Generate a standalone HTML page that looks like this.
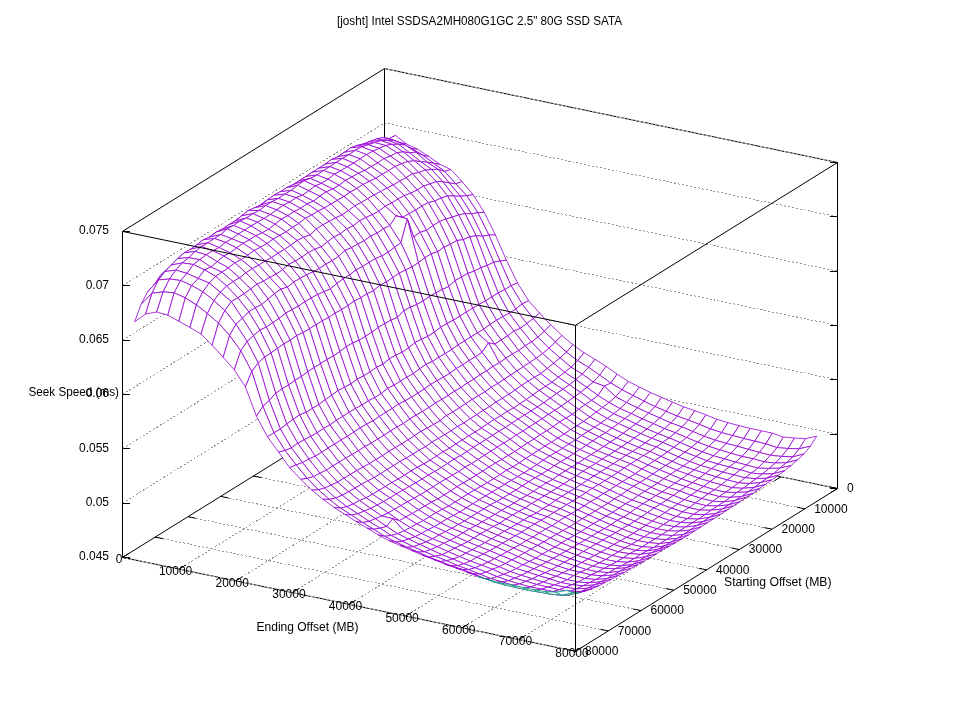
<!DOCTYPE html>
<html><head><meta charset="utf-8"><title>plot</title>
<style>
html,body{margin:0;padding:0;background:#fff;}
svg{display:block;}
text{font-family:"Liberation Sans",sans-serif;font-size:12px;fill:#000;}
.t{filter:grayscale(1);}
.b{stroke:#000;stroke-width:1;fill:none;}
.d{stroke:#969696;stroke-width:1;fill:none;stroke-dasharray:2 2;shape-rendering:crispEdges;}
.d2{stroke:#a8a8a8;stroke-width:1;fill:none;stroke-dasharray:2 2;shape-rendering:crispEdges;}
.q path{fill:#fff;stroke:#9400d3;stroke-width:.8;stroke-linejoin:round;}
.q path.u{stroke:#009e73;}
</style></head><body>
<svg width="960" height="720" viewBox="0 0 960 720">
<rect width="960" height="720" fill="#fff"/>
<path class="d" d="M122.5 503.1L384.5 340.3"/><path class="d" d="M384.5 340.3L837.5 434.2"/><path class="d" d="M122.5 448.7L384.5 285.9"/><path class="d" d="M384.5 285.9L837.5 379.8"/><path class="d" d="M122.5 394.4L384.5 231.6"/><path class="d" d="M384.5 231.6L837.5 325.5"/><path class="d" d="M122.5 340.1L384.5 177.3"/><path class="d" d="M384.5 177.3L837.5 271.2"/><path class="d" d="M122.5 285.7L384.5 122.9"/><path class="d" d="M384.5 122.9L837.5 216.8"/><path class="d" d="M441.1 406.3L179.1 569.1"/><path class="d" d="M351.8 415L804.8 508.9"/><path class="d" d="M497.8 418.1L235.8 580.9"/><path class="d" d="M319 435.3L772 529.2"/><path class="d" d="M554.4 429.8L292.4 592.6"/><path class="d" d="M286.2 455.7L739.2 549.5"/><path class="d" d="M611 441.6L349 604.4"/><path class="d" d="M253.5 476L706.5 569.9"/><path class="d" d="M667.6 453.3L405.6 616.1"/><path class="d" d="M220.8 496.4L673.8 590.2"/><path class="d" d="M724.2 465L462.2 627.8"/><path class="d" d="M188 516.7L641 610.6"/><path class="d" d="M780.9 476.8L518.9 639.6"/><path class="d" d="M155.2 537.1L608.2 631"/><path class="b" d="M122.5 231.4L384.5 68.6"/><path class="b" d="M384.5 68.6L837.5 162.5"/><path class="b" d="M384.5 68.6L384.5 394.6"/><path class="b" d="M122.5 557.4L384.5 394.6"/><path class="b" d="M384.5 394.6L837.5 488.5"/><path class="d2" d="M384.5 68.6L837.5 162.5"/><path class="d2" d="M384.5 394.6L837.5 488.5"/><path class="b" d="M384.5 394.6L392.3 396.2"/><path class="b" d="M384.5 394.6L377.7 398.8"/><path class="b" d="M351.8 415L359.6 416.6"/><path class="b" d="M441.1 406.3L434.3 410.6"/><path class="b" d="M319 435.3L326.8 436.9"/><path class="b" d="M497.8 418.1L491 422.3"/><path class="b" d="M286.2 455.7L294.1 457.3"/><path class="b" d="M554.4 429.8L547.6 434"/><path class="b" d="M253.5 476L261.3 477.6"/><path class="b" d="M611 441.6L604.2 445.8"/><path class="b" d="M220.8 496.4L228.6 498"/><path class="b" d="M667.6 453.3L660.8 457.5"/><path class="b" d="M188 516.7L195.8 518.3"/><path class="b" d="M724.2 465L717.5 469.2"/><path class="b" d="M155.2 537.1L163.1 538.7"/><path class="b" d="M780.9 476.8L774.1 481"/><path class="b" d="M122.5 557.4L130.3 559"/><path class="b" d="M837.5 488.5L830.7 492.7"/><g class="q">
<path d="M384.5 141.3L395.6 135.5L389.2 138.6L378.1 143.4Z"/><path d="M395.6 135.5L406.7 144.1L400.3 142.8L389.2 138.6Z"/><path d="M406.7 144.1L417.7 149.3L411.3 148.5L400.3 142.8Z"/><path d="M417.7 149.3L428.8 156.5L422.4 155L411.3 148.5Z"/><path d="M428.8 156.5L439.9 164.4L433.5 163.2L422.4 155Z"/><path d="M439.9 164.4L451 169.6L444.6 171.4L433.5 163.2Z"/><path d="M451 169.6L462.1 181.6L455.7 183.8L444.6 171.4Z"/><path d="M462.1 181.6L473.1 194.7L466.7 195.7L455.7 183.8Z"/><path d="M473.1 194.7L484.2 212.3L477.8 212.7L466.7 195.7Z"/><path d="M484.2 212.3L495.3 234.8L488.9 235.1L477.8 212.7Z"/><path d="M495.3 234.8L506.4 260.2L500 261L488.9 235.1Z"/><path d="M506.4 260.2L517.5 282.9L511.1 285.7L500 261Z"/><path d="M517.5 282.9L528.6 300.7L522.1 304L511.1 285.7Z"/><path d="M528.6 300.7L539.6 313.1L533.2 318.6L522.1 304Z"/><path d="M539.6 313.1L550.7 324.8L544.3 331.4L533.2 318.6Z"/><path d="M550.7 324.8L561.8 335.4L555.4 342.1L544.3 331.4Z"/><path d="M561.8 335.4L572.9 344.7L566.5 352.1L555.4 342.1Z"/><path d="M572.9 344.7L584 352.7L577.6 360.7L566.5 352.1Z"/><path d="M584 352.7L595 359.3L588.6 367.4L577.6 360.7Z"/><path d="M595 359.3L606.1 366.3L599.7 375.1L588.6 367.4Z"/><path d="M606.1 366.3L617.2 374.2L610.8 383L599.7 375.1Z"/><path d="M617.2 374.2L628.3 381.4L621.9 389.8L610.8 383Z"/><path d="M628.3 381.4L639.4 387.1L633 395.5L621.9 389.8Z"/><path d="M639.4 387.1L650.4 392.5L644 401.2L633 395.5Z"/><path d="M650.4 392.5L661.5 397.4L655.1 406.6L644 401.2Z"/><path d="M661.5 397.4L672.6 402.1L666.2 411.4L655.1 406.6Z"/><path d="M672.6 402.1L683.7 406.9L677.3 416.2L666.2 411.4Z"/><path d="M683.7 406.9L694.8 410.7L688.4 420.1L677.3 416.2Z"/><path d="M694.8 410.7L705.9 414.9L699.4 424.4L688.4 420.1Z"/><path d="M705.9 414.9L716.9 419.3L710.5 428.9L699.4 424.4Z"/><path d="M716.9 419.3L728 422.7L721.6 432.6L710.5 428.9Z"/><path d="M728 422.7L739.1 425.7L732.7 435.6L721.6 432.6Z"/><path d="M739.1 425.7L750.2 428.4L743.8 438.5L732.7 435.6Z"/><path d="M750.2 428.4L761.3 430.8L754.8 441.2L743.8 438.5Z"/><path d="M761.3 430.8L772.3 433.1L765.9 443.9L754.8 441.2Z"/><path d="M772.3 433.1L783.4 437L777 447.6L765.9 443.9Z"/><path d="M783.4 437L794.5 438L788.1 448.5L777 447.6Z"/><path d="M794.5 438L805.6 438.6L799.2 448.8L788.1 448.5Z"/><path d="M805.6 438.6L816.7 436.2L810.3 446.2L799.2 448.8Z"/>
<path d="M378.1 143.4L389.2 138.6L382.8 137.6L371.7 143.7Z"/><path d="M389.2 138.6L400.3 142.8L393.8 140.5L382.8 137.6Z"/><path d="M400.3 142.8L411.3 148.5L404.9 145L393.8 140.5Z"/><path d="M411.3 148.5L422.4 155L416 152.2L404.9 145Z"/><path d="M422.4 155L433.5 163.2L427.1 162.2L416 152.2Z"/><path d="M433.5 163.2L444.6 171.4L438.2 169.4L427.1 162.2Z"/><path d="M444.6 171.4L455.7 183.8L449.2 182.9L438.2 169.4Z"/><path d="M455.7 183.8L466.7 195.7L460.3 196.2L449.2 182.9Z"/><path d="M466.7 195.7L477.8 212.7L471.4 213.8L460.3 196.2Z"/><path d="M477.8 212.7L488.9 235.1L482.5 236.2L471.4 213.8Z"/><path d="M488.9 235.1L500 261L493.6 262.2L482.5 236.2Z"/><path d="M500 261L511.1 285.7L504.7 289.6L493.6 262.2Z"/><path d="M511.1 285.7L522.1 304L515.7 309.1L504.7 289.6Z"/><path d="M522.1 304L533.2 318.6L526.8 323.6L515.7 309.1Z"/><path d="M533.2 318.6L544.3 331.4L537.9 337.1L526.8 323.6Z"/><path d="M544.3 331.4L555.4 342.1L549 348.3L537.9 337.1Z"/><path d="M555.4 342.1L566.5 352.1L560.1 357.9L549 348.3Z"/><path d="M566.5 352.1L577.6 360.7L571.1 367.2L560.1 357.9Z"/><path d="M577.6 360.7L588.6 367.4L582.2 374.1L571.1 367.2Z"/><path d="M588.6 367.4L599.7 375.1L593.3 382L582.2 374.1Z"/><path d="M599.7 375.1L610.8 383L604.4 386.2L593.3 382Z"/><path d="M610.8 383L621.9 389.8L615.5 396.7L604.4 386.2Z"/><path d="M621.9 389.8L633 395.5L626.5 402.5L615.5 396.7Z"/><path d="M633 395.5L644 401.2L637.6 407.9L626.5 402.5Z"/><path d="M644 401.2L655.1 406.6L648.7 413.1L637.6 407.9Z"/><path d="M655.1 406.6L666.2 411.4L659.8 418L648.7 413.1Z"/><path d="M666.2 411.4L677.3 416.2L670.9 423L659.8 418Z"/><path d="M677.3 416.2L688.4 420.1L682 426.9L670.9 423Z"/><path d="M688.4 420.1L699.4 424.4L693 431.6L682 426.9Z"/><path d="M699.4 424.4L710.5 428.9L704.1 436.3L693 431.6Z"/><path d="M710.5 428.9L721.6 432.6L715.2 440.2L704.1 436.3Z"/><path d="M721.6 432.6L732.7 435.6L726.3 443.4L715.2 440.2Z"/><path d="M732.7 435.6L743.8 438.5L737.4 446.3L726.3 443.4Z"/><path d="M743.8 438.5L754.8 441.2L748.4 449.4L737.4 446.3Z"/><path d="M754.8 441.2L765.9 443.9L759.5 452.4L748.4 449.4Z"/><path d="M765.9 443.9L777 447.6L770.6 455.3L759.5 452.4Z"/><path d="M777 447.6L788.1 448.5L781.7 456.4L770.6 455.3Z"/><path d="M788.1 448.5L799.2 448.8L792.8 456.9L781.7 456.4Z"/><path d="M799.2 448.8L810.3 446.2L803.8 454L792.8 456.9Z"/>
<path d="M371.7 143.7L382.8 137.6L376.4 139L365.3 144.8Z"/><path d="M382.8 137.6L393.8 140.5L387.4 140.3L376.4 139Z"/><path d="M393.8 140.5L404.9 145L398.5 144.3L387.4 140.3Z"/><path d="M404.9 145L416 152.2L409.6 152.8L398.5 144.3Z"/><path d="M416 152.2L427.1 162.2L420.7 161.7L409.6 152.8Z"/><path d="M427.1 162.2L438.2 169.4L431.8 169.6L420.7 161.7Z"/><path d="M438.2 169.4L449.2 182.9L442.8 181.8L431.8 169.6Z"/><path d="M449.2 182.9L460.3 196.2L453.9 196.1L442.8 181.8Z"/><path d="M460.3 196.2L471.4 213.8L465 213.6L453.9 196.1Z"/><path d="M471.4 213.8L482.5 236.2L476.1 235.7L465 213.6Z"/><path d="M482.5 236.2L493.6 262.2L487.2 265.5L476.1 235.7Z"/><path d="M493.6 262.2L504.7 289.6L498.2 292.9L487.2 265.5Z"/><path d="M504.7 289.6L515.7 309.1L509.3 313.3L498.2 292.9Z"/><path d="M515.7 309.1L526.8 323.6L520.4 328.3L509.3 313.3Z"/><path d="M526.8 323.6L537.9 337.1L531.5 342L520.4 328.3Z"/><path d="M537.9 337.1L549 348.3L542.6 353.6L531.5 342Z"/><path d="M549 348.3L560.1 357.9L553.7 363.3L542.6 353.6Z"/><path d="M560.1 357.9L571.1 367.2L564.7 372.3L553.7 363.3Z"/><path d="M571.1 367.2L582.2 374.1L575.8 379.7L564.7 372.3Z"/><path d="M582.2 374.1L593.3 382L586.9 387.4L575.8 379.7Z"/><path d="M593.3 382L604.4 386.2L598 395.5L586.9 387.4Z"/><path d="M604.4 386.2L615.5 396.7L609.1 402.5L598 395.5Z"/><path d="M615.5 396.7L626.5 402.5L620.1 408.6L609.1 402.5Z"/><path d="M626.5 402.5L637.6 407.9L631.2 413.6L620.1 408.6Z"/><path d="M637.6 407.9L648.7 413.1L642.3 418.9L631.2 413.6Z"/><path d="M648.7 413.1L659.8 418L653.4 423.7L642.3 418.9Z"/><path d="M659.8 418L670.9 423L664.5 428.7L653.4 423.7Z"/><path d="M670.9 423L682 426.9L675.5 432.8L664.5 428.7Z"/><path d="M682 426.9L693 431.6L686.6 437.5L675.5 432.8Z"/><path d="M693 431.6L704.1 436.3L697.7 442.2L686.6 437.5Z"/><path d="M704.1 436.3L715.2 440.2L708.8 446.4L697.7 442.2Z"/><path d="M715.2 440.2L726.3 443.4L719.9 449.9L708.8 446.4Z"/><path d="M726.3 443.4L737.4 446.3L730.9 453.3L719.9 449.9Z"/><path d="M737.4 446.3L748.4 449.4L742 456.4L730.9 453.3Z"/><path d="M748.4 449.4L759.5 452.4L753.1 458.8L742 456.4Z"/><path d="M759.5 452.4L770.6 455.3L764.2 461.9L753.1 458.8Z"/><path d="M770.6 455.3L781.7 456.4L775.3 463.1L764.2 461.9Z"/><path d="M781.7 456.4L792.8 456.9L786.4 462.7L775.3 463.1Z"/><path d="M792.8 456.9L803.8 454L797.4 459.9L786.4 462.7Z"/>
<path d="M365.3 144.8L376.4 139L369.9 141.4L358.9 147.5Z"/><path d="M376.4 139L387.4 140.3L381 140.6L369.9 141.4Z"/><path d="M387.4 140.3L398.5 144.3L392.1 144.4L381 140.6Z"/><path d="M398.5 144.3L409.6 152.8L403.2 151.9L392.1 144.4Z"/><path d="M409.6 152.8L420.7 161.7L414.3 160.8L403.2 151.9Z"/><path d="M420.7 161.7L431.8 169.6L425.4 170L414.3 160.8Z"/><path d="M431.8 169.6L442.8 181.8L436.4 181.6L425.4 170Z"/><path d="M442.8 181.8L453.9 196.1L447.5 195.9L436.4 181.6Z"/><path d="M453.9 196.1L465 213.6L458.6 215L447.5 195.9Z"/><path d="M465 213.6L476.1 235.7L469.7 236.9L458.6 215Z"/><path d="M476.1 235.7L487.2 265.5L480.8 267.7L469.7 236.9Z"/><path d="M487.2 265.5L498.2 292.9L491.8 297L480.8 267.7Z"/><path d="M498.2 292.9L509.3 313.3L502.9 316.6L491.8 297Z"/><path d="M509.3 313.3L520.4 328.3L514 331.1L502.9 316.6Z"/><path d="M520.4 328.3L531.5 342L525.1 345.7L514 331.1Z"/><path d="M531.5 342L542.6 353.6L536.2 358.1L525.1 345.7Z"/><path d="M542.6 353.6L553.7 363.3L547.2 368.5L536.2 358.1Z"/><path d="M553.7 363.3L564.7 372.3L558.3 377.2L547.2 368.5Z"/><path d="M564.7 372.3L575.8 379.7L569.4 384.8L558.3 377.2Z"/><path d="M575.8 379.7L586.9 387.4L580.5 392.4L569.4 384.8Z"/><path d="M586.9 387.4L598 395.5L591.6 400.4L580.5 392.4Z"/><path d="M598 395.5L609.1 402.5L602.6 407.5L591.6 400.4Z"/><path d="M609.1 402.5L620.1 408.6L613.7 413.8L602.6 407.5Z"/><path d="M620.1 408.6L631.2 413.6L624.8 418.7L613.7 413.8Z"/><path d="M631.2 413.6L642.3 418.9L635.9 423.9L624.8 418.7Z"/><path d="M642.3 418.9L653.4 423.7L647 429L635.9 423.9Z"/><path d="M653.4 423.7L664.5 428.7L658.1 433.7L647 429Z"/><path d="M664.5 428.7L675.5 432.8L669.1 437.9L658.1 433.7Z"/><path d="M675.5 432.8L686.6 437.5L680.2 442.6L669.1 437.9Z"/><path d="M686.6 437.5L697.7 442.2L691.3 447.4L680.2 442.6Z"/><path d="M697.7 442.2L708.8 446.4L702.4 452L691.3 447.4Z"/><path d="M708.8 446.4L719.9 449.9L713.5 455.8L702.4 452Z"/><path d="M719.9 449.9L730.9 453.3L724.5 458.9L713.5 455.8Z"/><path d="M730.9 453.3L742 456.4L735.6 462.2L724.5 458.9Z"/><path d="M742 456.4L753.1 458.8L746.7 465L735.6 462.2Z"/><path d="M753.1 458.8L764.2 461.9L757.8 468.1L746.7 465Z"/><path d="M764.2 461.9L775.3 463.1L768.9 468.5L757.8 468.1Z"/><path d="M775.3 463.1L786.4 462.7L779.9 468.1L768.9 468.5Z"/><path d="M786.4 462.7L797.4 459.9L791 465.6L779.9 468.1Z"/>
<path d="M358.9 147.5L369.9 141.4L363.5 143.9L352.5 150.3Z"/><path d="M369.9 141.4L381 140.6L374.6 142.6L363.5 143.9Z"/><path d="M381 140.6L392.1 144.4L385.7 145.5L374.6 142.6Z"/><path d="M392.1 144.4L403.2 151.9L396.8 152.7L385.7 145.5Z"/><path d="M403.2 151.9L414.3 160.8L407.9 161.5L396.8 152.7Z"/><path d="M414.3 160.8L425.4 170L418.9 172.6L407.9 161.5Z"/><path d="M425.4 170L436.4 181.6L430 183.9L418.9 172.6Z"/><path d="M436.4 181.6L447.5 195.9L441.1 198.1L430 183.9Z"/><path d="M447.5 195.9L458.6 215L452.2 217.2L441.1 198.1Z"/><path d="M458.6 215L469.7 236.9L463.3 239.7L452.2 217.2Z"/><path d="M469.7 236.9L480.8 267.7L474.3 271.1L463.3 239.7Z"/><path d="M480.8 267.7L491.8 297L485.4 300.9L474.3 271.1Z"/><path d="M491.8 297L502.9 316.6L496.5 320.3L485.4 300.9Z"/><path d="M502.9 316.6L514 331.1L507.6 335.9L496.5 320.3Z"/><path d="M514 331.1L525.1 345.7L518.7 350.5L507.6 335.9Z"/><path d="M525.1 345.7L536.2 358.1L529.8 362.5L518.7 350.5Z"/><path d="M536.2 358.1L547.2 368.5L540.8 373.6L529.8 362.5Z"/><path d="M547.2 368.5L558.3 377.2L551.9 382.3L540.8 373.6Z"/><path d="M558.3 377.2L569.4 384.8L563 389.3L551.9 382.3Z"/><path d="M569.4 384.8L580.5 392.4L574.1 397.1L563 389.3Z"/><path d="M580.5 392.4L591.6 400.4L585.2 404.7L574.1 397.1Z"/><path d="M591.6 400.4L602.6 407.5L596.2 412L585.2 404.7Z"/><path d="M602.6 407.5L613.7 413.8L607.3 418.5L596.2 412Z"/><path d="M613.7 413.8L624.8 418.7L618.4 423.6L607.3 418.5Z"/><path d="M624.8 418.7L635.9 423.9L629.5 428.5L618.4 423.6Z"/><path d="M635.9 423.9L647 429L640.6 433.6L629.5 428.5Z"/><path d="M647 429L658.1 433.7L651.6 438.3L640.6 433.6Z"/><path d="M658.1 433.7L669.1 437.9L662.7 442.4L651.6 438.3Z"/><path d="M669.1 437.9L680.2 442.6L673.8 447.3L662.7 442.4Z"/><path d="M680.2 442.6L691.3 447.4L684.9 452.2L673.8 447.3Z"/><path d="M691.3 447.4L702.4 452L696 456.5L684.9 452.2Z"/><path d="M702.4 452L713.5 455.8L707 460.8L696 456.5Z"/><path d="M713.5 455.8L724.5 458.9L718.1 464.1L707 460.8Z"/><path d="M724.5 458.9L735.6 462.2L729.2 467L718.1 464.1Z"/><path d="M735.6 462.2L746.7 465L740.3 469.8L729.2 467Z"/><path d="M746.7 465L757.8 468.1L751.4 473.1L740.3 469.8Z"/><path d="M757.8 468.1L768.9 468.5L762.5 474L751.4 473.1Z"/><path d="M768.9 468.5L779.9 468.1L773.5 473.7L762.5 474Z"/><path d="M779.9 468.1L791 465.6L784.6 470.7L773.5 473.7Z"/>
<path d="M352.5 150.3L363.5 143.9L357.1 145.5L346 153.8Z"/><path d="M363.5 143.9L374.6 142.6L368.2 144.8L357.1 145.5Z"/><path d="M374.6 142.6L385.7 145.5L379.3 148.4L368.2 144.8Z"/><path d="M385.7 145.5L396.8 152.7L390.4 156.2L379.3 148.4Z"/><path d="M396.8 152.7L407.9 161.5L401.5 163.8L390.4 156.2Z"/><path d="M407.9 161.5L418.9 172.6L412.5 173.7L401.5 163.8Z"/><path d="M418.9 172.6L430 183.9L423.6 186.1L412.5 173.7Z"/><path d="M430 183.9L441.1 198.1L434.7 201.1L423.6 186.1Z"/><path d="M441.1 198.1L452.2 217.2L445.8 219L434.7 201.1Z"/><path d="M452.2 217.2L463.3 239.7L456.9 240.5L445.8 219Z"/><path d="M463.3 239.7L474.3 271.1L467.9 273.4L456.9 240.5Z"/><path d="M474.3 271.1L485.4 300.9L479 304.5L467.9 273.4Z"/><path d="M485.4 300.9L496.5 320.3L490.1 324.4L479 304.5Z"/><path d="M496.5 320.3L507.6 335.9L501.2 340L490.1 324.4Z"/><path d="M507.6 335.9L518.7 350.5L512.3 354.1L501.2 340Z"/><path d="M518.7 350.5L529.8 362.5L523.3 366.7L512.3 354.1Z"/><path d="M529.8 362.5L540.8 373.6L534.4 377.3L523.3 366.7Z"/><path d="M540.8 373.6L551.9 382.3L545.5 386.4L534.4 377.3Z"/><path d="M551.9 382.3L563 389.3L556.6 393.5L545.5 386.4Z"/><path d="M563 389.3L574.1 397.1L567.7 401.6L556.6 393.5Z"/><path d="M574.1 397.1L585.2 404.7L578.7 409.3L567.7 401.6Z"/><path d="M585.2 404.7L596.2 412L589.8 417L578.7 409.3Z"/><path d="M596.2 412L607.3 418.5L600.9 423.1L589.8 417Z"/><path d="M607.3 418.5L618.4 423.6L612 428.2L600.9 423.1Z"/><path d="M618.4 423.6L629.5 428.5L623.1 433.4L612 428.2Z"/><path d="M629.5 428.5L640.6 433.6L634.2 438.1L623.1 433.4Z"/><path d="M640.6 433.6L651.6 438.3L645.2 442.9L634.2 438.1Z"/><path d="M651.6 438.3L662.7 442.4L656.3 447.1L645.2 442.9Z"/><path d="M662.7 442.4L673.8 447.3L667.4 451.9L656.3 447.1Z"/><path d="M673.8 447.3L684.9 452.2L678.5 456.9L667.4 451.9Z"/><path d="M684.9 452.2L696 456.5L689.6 461.5L678.5 456.9Z"/><path d="M696 456.5L707 460.8L700.6 465.5L689.6 461.5Z"/><path d="M707 460.8L718.1 464.1L711.7 468.6L700.6 465.5Z"/><path d="M718.1 464.1L729.2 467L722.8 472.2L711.7 468.6Z"/><path d="M729.2 467L740.3 469.8L733.9 474.9L722.8 472.2Z"/><path d="M740.3 469.8L751.4 473.1L745 477.8L733.9 474.9Z"/><path d="M751.4 473.1L762.5 474L756 478.7L745 477.8Z"/><path d="M762.5 474L773.5 473.7L767.1 478.2L756 478.7Z"/><path d="M773.5 473.7L784.6 470.7L778.2 475.3L767.1 478.2Z"/>
<path d="M346 153.8L357.1 145.5L350.7 147.8L339.6 158.2Z"/><path d="M357.1 145.5L368.2 144.8L361.8 146.8L350.7 147.8Z"/><path d="M368.2 144.8L379.3 148.4L372.9 151.2L361.8 146.8Z"/><path d="M379.3 148.4L390.4 156.2L384 158.6L372.9 151.2Z"/><path d="M390.4 156.2L401.5 163.8L395 166.5L384 158.6Z"/><path d="M401.5 163.8L412.5 173.7L406.1 177.7L395 166.5Z"/><path d="M412.5 173.7L423.6 186.1L417.2 189.9L406.1 177.7Z"/><path d="M423.6 186.1L434.7 201.1L428.3 202.6L417.2 189.9Z"/><path d="M434.7 201.1L445.8 219L439.4 221.6L428.3 202.6Z"/><path d="M445.8 219L456.9 240.5L450.4 244.3L439.4 221.6Z"/><path d="M456.9 240.5L467.9 273.4L461.5 277.1L450.4 244.3Z"/><path d="M467.9 273.4L479 304.5L472.6 308.3L461.5 277.1Z"/><path d="M479 304.5L490.1 324.4L483.7 329.2L472.6 308.3Z"/><path d="M490.1 324.4L501.2 340L494.8 344.2L483.7 329.2Z"/><path d="M501.2 340L512.3 354.1L505.9 358.2L494.8 344.2Z"/><path d="M512.3 354.1L523.3 366.7L516.9 371L505.9 358.2Z"/><path d="M523.3 366.7L534.4 377.3L528 381.3L516.9 371Z"/><path d="M534.4 377.3L545.5 386.4L539.1 390.4L528 381.3Z"/><path d="M545.5 386.4L556.6 393.5L550.2 398.2L539.1 390.4Z"/><path d="M556.6 393.5L567.7 401.6L561.3 406.2L550.2 398.2Z"/><path d="M567.7 401.6L578.7 409.3L572.3 414.3L561.3 406.2Z"/><path d="M578.7 409.3L589.8 417L583.4 421.5L572.3 414.3Z"/><path d="M589.8 417L600.9 423.1L594.5 427.3L583.4 421.5Z"/><path d="M600.9 423.1L612 428.2L605.6 432.8L594.5 427.3Z"/><path d="M612 428.2L623.1 433.4L616.7 438L605.6 432.8Z"/><path d="M623.1 433.4L634.2 438.1L627.7 442.7L616.7 438Z"/><path d="M634.2 438.1L645.2 442.9L638.8 447.5L627.7 442.7Z"/><path d="M645.2 442.9L656.3 447.1L649.9 451.5L638.8 447.5Z"/><path d="M656.3 447.1L667.4 451.9L661 456.5L649.9 451.5Z"/><path d="M667.4 451.9L678.5 456.9L672.1 461.4L661 456.5Z"/><path d="M678.5 456.9L689.6 461.5L683.2 466.1L672.1 461.4Z"/><path d="M689.6 461.5L700.6 465.5L694.2 469.9L683.2 466.1Z"/><path d="M700.6 465.5L711.7 468.6L705.3 473.5L694.2 469.9Z"/><path d="M711.7 468.6L722.8 472.2L716.4 476.9L705.3 473.5Z"/><path d="M722.8 472.2L733.9 474.9L727.5 480L716.4 476.9Z"/><path d="M733.9 474.9L745 477.8L738.6 482.9L727.5 480Z"/><path d="M745 477.8L756 478.7L749.6 483.5L738.6 482.9Z"/><path d="M756 478.7L767.1 478.2L760.7 482.6L749.6 483.5Z"/><path d="M767.1 478.2L778.2 475.3L771.8 479.9L760.7 482.6Z"/>
<path d="M339.6 158.2L350.7 147.8L344.3 152.4L333.2 160.9Z"/><path d="M350.7 147.8L361.8 146.8L355.4 150.3L344.3 152.4Z"/><path d="M361.8 146.8L372.9 151.2L366.5 154.6L355.4 150.3Z"/><path d="M372.9 151.2L384 158.6L377.6 163L366.5 154.6Z"/><path d="M384 158.6L395 166.5L388.6 170.6L377.6 163Z"/><path d="M395 166.5L406.1 177.7L399.7 181.1L388.6 170.6Z"/><path d="M406.1 177.7L417.2 189.9L410.8 193.2L399.7 181.1Z"/><path d="M417.2 189.9L428.3 202.6L421.9 206L410.8 193.2Z"/><path d="M428.3 202.6L439.4 221.6L433 225.6L421.9 206Z"/><path d="M439.4 221.6L450.4 244.3L444 247.1L433 225.6Z"/><path d="M450.4 244.3L461.5 277.1L455.1 280.6L444 247.1Z"/><path d="M461.5 277.1L472.6 308.3L466.2 312.1L455.1 280.6Z"/><path d="M472.6 308.3L483.7 329.2L477.3 333L466.2 312.1Z"/><path d="M483.7 329.2L494.8 344.2L488.4 342.8L477.3 333Z"/><path d="M494.8 344.2L505.9 358.2L499.4 362.7L488.4 342.8Z"/><path d="M505.9 358.2L516.9 371L510.5 375.1L499.4 362.7Z"/><path d="M516.9 371L528 381.3L521.6 385.4L510.5 375.1Z"/><path d="M528 381.3L539.1 390.4L532.7 395L521.6 385.4Z"/><path d="M539.1 390.4L550.2 398.2L543.8 402.7L532.7 395Z"/><path d="M550.2 398.2L561.3 406.2L554.9 410.3L543.8 402.7Z"/><path d="M561.3 406.2L572.3 414.3L565.9 418.2L554.9 410.3Z"/><path d="M572.3 414.3L583.4 421.5L577 425.8L565.9 418.2Z"/><path d="M583.4 421.5L594.5 427.3L588.1 431.4L577 425.8Z"/><path d="M594.5 427.3L605.6 432.8L599.2 436.7L588.1 431.4Z"/><path d="M605.6 432.8L616.7 438L610.3 442L599.2 436.7Z"/><path d="M616.7 438L627.7 442.7L621.3 446.9L610.3 442Z"/><path d="M627.7 442.7L638.8 447.5L632.4 451.5L621.3 446.9Z"/><path d="M638.8 447.5L649.9 451.5L643.5 455.6L632.4 451.5Z"/><path d="M649.9 451.5L661 456.5L654.6 460.5L643.5 455.6Z"/><path d="M661 456.5L672.1 461.4L665.7 465.5L654.6 460.5Z"/><path d="M672.1 461.4L683.2 466.1L676.7 470.3L665.7 465.5Z"/><path d="M683.2 466.1L694.2 469.9L687.8 474.3L676.7 470.3Z"/><path d="M694.2 469.9L705.3 473.5L698.9 478.3L687.8 474.3Z"/><path d="M705.3 473.5L716.4 476.9L710 481.6L698.9 478.3Z"/><path d="M716.4 476.9L727.5 480L721.1 484.8L710 481.6Z"/><path d="M727.5 480L738.6 482.9L732.1 487.7L721.1 484.8Z"/><path d="M738.6 482.9L749.6 483.5L743.2 488.3L732.1 487.7Z"/><path d="M749.6 483.5L760.7 482.6L754.3 487.4L743.2 488.3Z"/><path d="M760.7 482.6L771.8 479.9L765.4 484.4L754.3 487.4Z"/>
<path d="M333.2 160.9L344.3 152.4L337.9 156.8L326.8 165Z"/><path d="M344.3 152.4L355.4 150.3L349 154.7L337.9 156.8Z"/><path d="M355.4 150.3L366.5 154.6L360.1 158.8L349 154.7Z"/><path d="M366.5 154.6L377.6 163L371.1 166.6L360.1 158.8Z"/><path d="M377.6 163L388.6 170.6L382.2 174.3L371.1 166.6Z"/><path d="M388.6 170.6L399.7 181.1L393.3 185L382.2 174.3Z"/><path d="M399.7 181.1L410.8 193.2L404.4 195.6L393.3 185Z"/><path d="M410.8 193.2L421.9 206L415.5 210.2L404.4 195.6Z"/><path d="M421.9 206L433 225.6L426.5 230.3L415.5 210.2Z"/><path d="M433 225.6L444 247.1L437.6 251.7L426.5 230.3Z"/><path d="M444 247.1L455.1 280.6L448.7 286.6L437.6 251.7Z"/><path d="M455.1 280.6L466.2 312.1L459.8 316.2L448.7 286.6Z"/><path d="M466.2 312.1L477.3 333L470.9 336.9L459.8 316.2Z"/><path d="M477.3 333L488.4 342.8L482 352.4L470.9 336.9Z"/><path d="M488.4 342.8L499.4 362.7L493 366.4L482 352.4Z"/><path d="M499.4 362.7L510.5 375.1L504.1 379.4L493 366.4Z"/><path d="M510.5 375.1L521.6 385.4L515.2 390.1L504.1 379.4Z"/><path d="M521.6 385.4L532.7 395L526.3 399.6L515.2 390.1Z"/><path d="M532.7 395L543.8 402.7L537.4 407L526.3 399.6Z"/><path d="M543.8 402.7L554.9 410.3L548.4 414.4L537.4 407Z"/><path d="M554.9 410.3L565.9 418.2L559.5 422L548.4 414.4Z"/><path d="M565.9 418.2L577 425.8L570.6 429.6L559.5 422Z"/><path d="M577 425.8L588.1 431.4L581.7 435.6L570.6 429.6Z"/><path d="M588.1 431.4L599.2 436.7L592.8 441L581.7 435.6Z"/><path d="M599.2 436.7L610.3 442L603.8 446.5L592.8 441Z"/><path d="M610.3 442L621.3 446.9L614.9 451.1L603.8 446.5Z"/><path d="M621.3 446.9L632.4 451.5L626 455.4L614.9 451.1Z"/><path d="M632.4 451.5L643.5 455.6L637.1 459.8L626 455.4Z"/><path d="M643.5 455.6L654.6 460.5L648.2 465.1L637.1 459.8Z"/><path d="M654.6 460.5L665.7 465.5L659.3 469.7L648.2 465.1Z"/><path d="M665.7 465.5L676.7 470.3L670.3 474.3L659.3 469.7Z"/><path d="M676.7 470.3L687.8 474.3L681.4 479L670.3 474.3Z"/><path d="M687.8 474.3L698.9 478.3L692.5 482.7L681.4 479Z"/><path d="M698.9 478.3L710 481.6L703.6 486.4L692.5 482.7Z"/><path d="M710 481.6L721.1 484.8L714.7 489.8L703.6 486.4Z"/><path d="M721.1 484.8L732.1 487.7L725.7 492.2L714.7 489.8Z"/><path d="M732.1 487.7L743.2 488.3L736.8 492.5L725.7 492.2Z"/><path d="M743.2 488.3L754.3 487.4L747.9 491.9L736.8 492.5Z"/><path d="M754.3 487.4L765.4 484.4L759 488.7L747.9 491.9Z"/>
<path d="M326.8 165L337.9 156.8L331.5 159.5L320.4 169.4Z"/><path d="M337.9 156.8L349 154.7L342.6 158.4L331.5 159.5Z"/><path d="M349 154.7L360.1 158.8L353.7 163.2L342.6 158.4Z"/><path d="M360.1 158.8L371.1 166.6L364.7 170.4L353.7 163.2Z"/><path d="M371.1 166.6L382.2 174.3L375.8 178.3L364.7 170.4Z"/><path d="M382.2 174.3L393.3 185L386.9 188L375.8 178.3Z"/><path d="M393.3 185L404.4 195.6L398 199.1L386.9 188Z"/><path d="M404.4 195.6L415.5 210.2L409.1 213.6L398 199.1Z"/><path d="M415.5 210.2L426.5 230.3L420.1 232.3L409.1 213.6Z"/><path d="M426.5 230.3L437.6 251.7L431.2 253.9L420.1 232.3Z"/><path d="M437.6 251.7L448.7 286.6L442.3 289.4L431.2 253.9Z"/><path d="M448.7 286.6L459.8 316.2L453.4 320.2L442.3 289.4Z"/><path d="M459.8 316.2L470.9 336.9L464.5 340.9L453.4 320.2Z"/><path d="M470.9 336.9L482 352.4L475.5 356.8L464.5 340.9Z"/><path d="M482 352.4L493 366.4L486.6 370.9L475.5 356.8Z"/><path d="M493 366.4L504.1 379.4L497.7 383.5L486.6 370.9Z"/><path d="M504.1 379.4L515.2 390.1L508.8 394.3L497.7 383.5Z"/><path d="M515.2 390.1L526.3 399.6L519.9 403.8L508.8 394.3Z"/><path d="M526.3 399.6L537.4 407L531 410.9L519.9 403.8Z"/><path d="M537.4 407L548.4 414.4L542 418.7L531 410.9Z"/><path d="M548.4 414.4L559.5 422L553.1 426.7L542 418.7Z"/><path d="M559.5 422L570.6 429.6L564.2 434L553.1 426.7Z"/><path d="M570.6 429.6L581.7 435.6L575.3 439.9L564.2 434Z"/><path d="M581.7 435.6L592.8 441L586.4 445.4L575.3 439.9Z"/><path d="M592.8 441L603.8 446.5L597.4 450.7L586.4 445.4Z"/><path d="M603.8 446.5L614.9 451.1L608.5 455.3L597.4 450.7Z"/><path d="M614.9 451.1L626 455.4L619.6 459.6L608.5 455.3Z"/><path d="M626 455.4L637.1 459.8L630.7 463.8L619.6 459.6Z"/><path d="M637.1 459.8L648.2 465.1L641.8 469L630.7 463.8Z"/><path d="M648.2 465.1L659.3 469.7L652.8 474.1L641.8 469Z"/><path d="M659.3 469.7L670.3 474.3L663.9 478.7L652.8 474.1Z"/><path d="M670.3 474.3L681.4 479L675 483.1L663.9 478.7Z"/><path d="M681.4 479L692.5 482.7L686.1 486.7L675 483.1Z"/><path d="M692.5 482.7L703.6 486.4L697.2 490.8L686.1 486.7Z"/><path d="M703.6 486.4L714.7 489.8L708.2 493.7L697.2 490.8Z"/><path d="M714.7 489.8L725.7 492.2L719.3 496.6L708.2 493.7Z"/><path d="M725.7 492.2L736.8 492.5L730.4 497.4L719.3 496.6Z"/><path d="M736.8 492.5L747.9 491.9L741.5 496.6L730.4 497.4Z"/><path d="M747.9 491.9L759 488.7L752.6 493.5L741.5 496.6Z"/>
<path d="M320.4 169.4L331.5 159.5L325.1 164.2L314 173.1Z"/><path d="M331.5 159.5L342.6 158.4L336.2 162.4L325.1 164.2Z"/><path d="M342.6 158.4L353.7 163.2L347.2 166.8L336.2 162.4Z"/><path d="M353.7 163.2L364.7 170.4L358.3 173.3L347.2 166.8Z"/><path d="M364.7 170.4L375.8 178.3L369.4 181.3L358.3 173.3Z"/><path d="M375.8 178.3L386.9 188L380.5 191.6L369.4 181.3Z"/><path d="M386.9 188L398 199.1L391.6 203L380.5 191.6Z"/><path d="M398 199.1L409.1 213.6L402.7 217.3L391.6 203Z"/><path d="M409.1 213.6L420.1 232.3L413.7 236.9L402.7 217.3Z"/><path d="M420.1 232.3L431.2 253.9L424.8 257.8L413.7 236.9Z"/><path d="M431.2 253.9L442.3 289.4L435.9 292.9L424.8 257.8Z"/><path d="M442.3 289.4L453.4 320.2L447 323.5L435.9 292.9Z"/><path d="M453.4 320.2L464.5 340.9L458.1 344.9L447 323.5Z"/><path d="M464.5 340.9L475.5 356.8L469.1 360.5L458.1 344.9Z"/><path d="M475.5 356.8L486.6 370.9L480.2 374.7L469.1 360.5Z"/><path d="M486.6 370.9L497.7 383.5L491.3 387.3L480.2 374.7Z"/><path d="M497.7 383.5L508.8 394.3L502.4 398.3L491.3 387.3Z"/><path d="M508.8 394.3L519.9 403.8L513.5 408L502.4 398.3Z"/><path d="M519.9 403.8L531 410.9L524.5 415.1L513.5 408Z"/><path d="M531 410.9L542 418.7L535.6 422.9L524.5 415.1Z"/><path d="M542 418.7L553.1 426.7L546.7 430.8L535.6 422.9Z"/><path d="M553.1 426.7L564.2 434L557.8 438.2L546.7 430.8Z"/><path d="M564.2 434L575.3 439.9L568.9 444.1L557.8 438.2Z"/><path d="M575.3 439.9L586.4 445.4L579.9 449.6L568.9 444.1Z"/><path d="M586.4 445.4L597.4 450.7L591 454.6L579.9 449.6Z"/><path d="M597.4 450.7L608.5 455.3L602.1 459.1L591 454.6Z"/><path d="M608.5 455.3L619.6 459.6L613.2 463.8L602.1 459.1Z"/><path d="M619.6 459.6L630.7 463.8L624.3 467.9L613.2 463.8Z"/><path d="M630.7 463.8L641.8 469L635.4 473.8L624.3 467.9Z"/><path d="M641.8 469L652.8 474.1L646.4 478.5L635.4 473.8Z"/><path d="M652.8 474.1L663.9 478.7L657.5 483.2L646.4 478.5Z"/><path d="M663.9 478.7L675 483.1L668.6 487.6L657.5 483.2Z"/><path d="M675 483.1L686.1 486.7L679.7 490.9L668.6 487.6Z"/><path d="M686.1 486.7L697.2 490.8L690.8 495.2L679.7 490.9Z"/><path d="M697.2 490.8L708.2 493.7L701.8 498.5L690.8 495.2Z"/><path d="M708.2 493.7L719.3 496.6L712.9 501.3L701.8 498.5Z"/><path d="M719.3 496.6L730.4 497.4L724 501.9L712.9 501.3Z"/><path d="M730.4 497.4L741.5 496.6L735.1 500.5L724 501.9Z"/><path d="M741.5 496.6L752.6 493.5L746.2 497.3L735.1 500.5Z"/>
<path d="M314 173.1L325.1 164.2L318.7 168.3L307.6 176.8Z"/><path d="M325.1 164.2L336.2 162.4L329.8 166.7L318.7 168.3Z"/><path d="M336.2 162.4L347.2 166.8L340.8 170.8L329.8 166.7Z"/><path d="M347.2 166.8L358.3 173.3L351.9 177L340.8 170.8Z"/><path d="M358.3 173.3L369.4 181.3L363 184.5L351.9 177Z"/><path d="M369.4 181.3L380.5 191.6L374.1 195L363 184.5Z"/><path d="M380.5 191.6L391.6 203L385.2 206.3L374.1 195Z"/><path d="M391.6 203L402.7 217.3L396.2 215.9L385.2 206.3Z"/><path d="M402.7 217.3L413.7 236.9L407.3 218.9L396.2 215.9Z"/><path d="M413.7 236.9L424.8 257.8L418.4 262.7L407.3 218.9Z"/><path d="M424.8 257.8L435.9 292.9L429.5 296.5L418.4 262.7Z"/><path d="M435.9 292.9L447 323.5L440.6 327.3L429.5 296.5Z"/><path d="M447 323.5L458.1 344.9L451.6 349.5L440.6 327.3Z"/><path d="M458.1 344.9L469.1 360.5L462.7 364.8L451.6 349.5Z"/><path d="M469.1 360.5L480.2 374.7L473.8 379.2L462.7 364.8Z"/><path d="M480.2 374.7L491.3 387.3L484.9 391.8L473.8 379.2Z"/><path d="M491.3 387.3L502.4 398.3L496 402.1L484.9 391.8Z"/><path d="M502.4 398.3L513.5 408L507.1 411.5L496 402.1Z"/><path d="M513.5 408L524.5 415.1L518.1 419.1L507.1 411.5Z"/><path d="M524.5 415.1L535.6 422.9L529.2 427L518.1 419.1Z"/><path d="M535.6 422.9L546.7 430.8L540.3 434.7L529.2 427Z"/><path d="M546.7 430.8L557.8 438.2L551.4 442.3L540.3 434.7Z"/><path d="M557.8 438.2L568.9 444.1L562.5 448.3L551.4 442.3Z"/><path d="M568.9 444.1L579.9 449.6L573.5 453.7L562.5 448.3Z"/><path d="M579.9 449.6L591 454.6L584.6 458.8L573.5 453.7Z"/><path d="M591 454.6L602.1 459.1L595.7 463.5L584.6 458.8Z"/><path d="M602.1 459.1L613.2 463.8L606.8 468L595.7 463.5Z"/><path d="M613.2 463.8L624.3 467.9L617.9 472.4L606.8 468Z"/><path d="M624.3 467.9L635.4 473.8L628.9 477.7L617.9 472.4Z"/><path d="M635.4 473.8L646.4 478.5L640 482.4L628.9 477.7Z"/><path d="M646.4 478.5L657.5 483.2L651.1 487.4L640 482.4Z"/><path d="M657.5 483.2L668.6 487.6L662.2 491.9L651.1 487.4Z"/><path d="M668.6 487.6L679.7 490.9L673.3 495.4L662.2 491.9Z"/><path d="M679.7 490.9L690.8 495.2L684.3 499.7L673.3 495.4Z"/><path d="M690.8 495.2L701.8 498.5L695.4 503L684.3 499.7Z"/><path d="M701.8 498.5L712.9 501.3L706.5 505.7L695.4 503Z"/><path d="M712.9 501.3L724 501.9L717.6 506L706.5 505.7Z"/><path d="M724 501.9L735.1 500.5L728.7 504.9L717.6 506Z"/><path d="M735.1 500.5L746.2 497.3L739.8 501.8L728.7 504.9Z"/>
<path d="M307.6 176.8L318.7 168.3L312.3 172.2L301.2 181Z"/><path d="M318.7 168.3L329.8 166.7L323.3 170.6L312.3 172.2Z"/><path d="M329.8 166.7L340.8 170.8L334.4 174.2L323.3 170.6Z"/><path d="M340.8 170.8L351.9 177L345.5 180.4L334.4 174.2Z"/><path d="M351.9 177L363 184.5L356.6 188.5L345.5 180.4Z"/><path d="M363 184.5L374.1 195L367.7 198.7L356.6 188.5Z"/><path d="M374.1 195L385.2 206.3L378.8 211.3L367.7 198.7Z"/><path d="M385.2 206.3L396.2 215.9L389.8 225.6L378.8 211.3Z"/><path d="M396.2 215.9L407.3 218.9L400.9 242.8L389.8 225.6Z"/><path d="M407.3 218.9L418.4 262.7L412 266.9L400.9 242.8Z"/><path d="M418.4 262.7L429.5 296.5L423.1 300.9L412 266.9Z"/><path d="M429.5 296.5L440.6 327.3L434.2 332.2L423.1 300.9Z"/><path d="M440.6 327.3L451.6 349.5L445.2 353.6L434.2 332.2Z"/><path d="M451.6 349.5L462.7 364.8L456.3 368.5L445.2 353.6Z"/><path d="M462.7 364.8L473.8 379.2L467.4 382.9L456.3 368.5Z"/><path d="M473.8 379.2L484.9 391.8L478.5 395.7L467.4 382.9Z"/><path d="M484.9 391.8L496 402.1L489.6 406.6L478.5 395.7Z"/><path d="M496 402.1L507.1 411.5L500.6 415.8L489.6 406.6Z"/><path d="M507.1 411.5L518.1 419.1L511.7 423.3L500.6 415.8Z"/><path d="M518.1 419.1L529.2 427L522.8 431L511.7 423.3Z"/><path d="M529.2 427L540.3 434.7L533.9 439.1L522.8 431Z"/><path d="M540.3 434.7L551.4 442.3L545 446.2L533.9 439.1Z"/><path d="M551.4 442.3L562.5 448.3L556 452.4L545 446.2Z"/><path d="M562.5 448.3L573.5 453.7L567.1 458L556 452.4Z"/><path d="M573.5 453.7L584.6 458.8L578.2 463.1L567.1 458Z"/><path d="M584.6 458.8L595.7 463.5L589.3 467.3L578.2 463.1Z"/><path d="M595.7 463.5L606.8 468L600.4 472L589.3 467.3Z"/><path d="M606.8 468L617.9 472.4L611.5 476.5L600.4 472Z"/><path d="M617.9 472.4L628.9 477.7L622.5 481.7L611.5 476.5Z"/><path d="M628.9 477.7L640 482.4L633.6 486.3L622.5 481.7Z"/><path d="M640 482.4L651.1 487.4L644.7 491.3L633.6 486.3Z"/><path d="M651.1 487.4L662.2 491.9L655.8 495.6L644.7 491.3Z"/><path d="M662.2 491.9L673.3 495.4L666.9 500L655.8 495.6Z"/><path d="M673.3 495.4L684.3 499.7L677.9 504L666.9 500Z"/><path d="M684.3 499.7L695.4 503L689 507.7L677.9 504Z"/><path d="M695.4 503L706.5 505.7L700.1 510.1L689 507.7Z"/><path d="M706.5 505.7L717.6 506L711.2 510.2L700.1 510.1Z"/><path d="M717.6 506L728.7 504.9L722.3 509L711.2 510.2Z"/><path d="M728.7 504.9L739.8 501.8L733.3 505.9L722.3 509Z"/>
<path d="M301.2 181L312.3 172.2L305.9 176.5L294.8 184.9Z"/><path d="M312.3 172.2L323.3 170.6L316.9 175L305.9 176.5Z"/><path d="M323.3 170.6L334.4 174.2L328 179.2L316.9 175Z"/><path d="M334.4 174.2L345.5 180.4L339.1 185.3L328 179.2Z"/><path d="M345.5 180.4L356.6 188.5L350.2 192.2L339.1 185.3Z"/><path d="M356.6 188.5L367.7 198.7L361.3 202.5L350.2 192.2Z"/><path d="M367.7 198.7L378.8 211.3L372.3 214.7L361.3 202.5Z"/><path d="M378.8 211.3L389.8 225.6L383.4 228.7L372.3 214.7Z"/><path d="M389.8 225.6L400.9 242.8L394.5 247.4L383.4 228.7Z"/><path d="M400.9 242.8L412 266.9L405.6 270L394.5 247.4Z"/><path d="M412 266.9L423.1 300.9L416.7 304.6L405.6 270Z"/><path d="M423.1 300.9L434.2 332.2L427.7 336.5L416.7 304.6Z"/><path d="M434.2 332.2L445.2 353.6L438.8 357.3L427.7 336.5Z"/><path d="M445.2 353.6L456.3 368.5L449.9 373.2L438.8 357.3Z"/><path d="M456.3 368.5L467.4 382.9L461 387.5L449.9 373.2Z"/><path d="M467.4 382.9L478.5 395.7L472.1 399.4L461 387.5Z"/><path d="M478.5 395.7L489.6 406.6L483.2 410.4L472.1 399.4Z"/><path d="M489.6 406.6L500.6 415.8L494.2 419.6L483.2 410.4Z"/><path d="M500.6 415.8L511.7 423.3L505.3 427.5L494.2 419.6Z"/><path d="M511.7 423.3L522.8 431L516.4 435.1L505.3 427.5Z"/><path d="M522.8 431L533.9 439.1L527.5 443.1L516.4 435.1Z"/><path d="M533.9 439.1L545 446.2L538.6 450.3L527.5 443.1Z"/><path d="M545 446.2L556 452.4L549.6 456L538.6 450.3Z"/><path d="M556 452.4L567.1 458L560.7 461.7L549.6 456Z"/><path d="M567.1 458L578.2 463.1L571.8 467L560.7 461.7Z"/><path d="M578.2 463.1L589.3 467.3L582.9 471.3L571.8 467Z"/><path d="M589.3 467.3L600.4 472L594 476L582.9 471.3Z"/><path d="M600.4 472L611.5 476.5L605 480.7L594 476Z"/><path d="M611.5 476.5L622.5 481.7L616.1 485.6L605 480.7Z"/><path d="M622.5 481.7L633.6 486.3L627.2 490.4L616.1 485.6Z"/><path d="M633.6 486.3L644.7 491.3L638.3 495.5L627.2 490.4Z"/><path d="M644.7 491.3L655.8 495.6L649.4 499.9L638.3 495.5Z"/><path d="M655.8 495.6L666.9 500L660.5 504.1L649.4 499.9Z"/><path d="M666.9 500L677.9 504L671.5 508.2L660.5 504.1Z"/><path d="M677.9 504L689 507.7L682.6 511.9L671.5 508.2Z"/><path d="M689 507.7L700.1 510.1L693.7 514.3L682.6 511.9Z"/><path d="M700.1 510.1L711.2 510.2L704.8 514.7L693.7 514.3Z"/><path d="M711.2 510.2L722.3 509L715.9 513.6L704.8 514.7Z"/><path d="M722.3 509L733.3 505.9L726.9 510L715.9 513.6Z"/>
<path d="M294.8 184.9L305.9 176.5L299.4 180.7L288.4 189.3Z"/><path d="M305.9 176.5L316.9 175L310.5 178.4L299.4 180.7Z"/><path d="M316.9 175L328 179.2L321.6 183.4L310.5 178.4Z"/><path d="M328 179.2L339.1 185.3L332.7 189L321.6 183.4Z"/><path d="M339.1 185.3L350.2 192.2L343.8 196.5L332.7 189Z"/><path d="M350.2 192.2L361.3 202.5L354.9 205.8L343.8 196.5Z"/><path d="M361.3 202.5L372.3 214.7L365.9 217.5L354.9 205.8Z"/><path d="M372.3 214.7L383.4 228.7L377 233.2L365.9 217.5Z"/><path d="M383.4 228.7L394.5 247.4L388.1 252.3L377 233.2Z"/><path d="M394.5 247.4L405.6 270L399.2 273.1L388.1 252.3Z"/><path d="M405.6 270L416.7 304.6L410.3 307.2L399.2 273.1Z"/><path d="M416.7 304.6L427.7 336.5L421.3 339.3L410.3 307.2Z"/><path d="M427.7 336.5L438.8 357.3L432.4 361.5L421.3 339.3Z"/><path d="M438.8 357.3L449.9 373.2L443.5 377.2L432.4 361.5Z"/><path d="M449.9 373.2L461 387.5L454.6 391.2L443.5 377.2Z"/><path d="M461 387.5L472.1 399.4L465.7 403.8L454.6 391.2Z"/><path d="M472.1 399.4L483.2 410.4L476.7 414.7L465.7 403.8Z"/><path d="M483.2 410.4L494.2 419.6L487.8 423.6L476.7 414.7Z"/><path d="M494.2 419.6L505.3 427.5L498.9 431.3L487.8 423.6Z"/><path d="M505.3 427.5L516.4 435.1L510 439.3L498.9 431.3Z"/><path d="M516.4 435.1L527.5 443.1L521.1 447.4L510 439.3Z"/><path d="M527.5 443.1L538.6 450.3L532.1 454.5L521.1 447.4Z"/><path d="M538.6 450.3L549.6 456L543.2 460.2L532.1 454.5Z"/><path d="M549.6 456L560.7 461.7L554.3 465.8L543.2 460.2Z"/><path d="M560.7 461.7L571.8 467L565.4 470.9L554.3 465.8Z"/><path d="M571.8 467L582.9 471.3L576.5 475.8L565.4 470.9Z"/><path d="M582.9 471.3L594 476L587.6 480.1L576.5 475.8Z"/><path d="M594 476L605 480.7L598.6 484.6L587.6 480.1Z"/><path d="M605 480.7L616.1 485.6L609.7 490L598.6 484.6Z"/><path d="M616.1 485.6L627.2 490.4L620.8 495.1L609.7 490Z"/><path d="M627.2 490.4L638.3 495.5L631.9 500.1L620.8 495.1Z"/><path d="M638.3 495.5L649.4 499.9L643 503.8L631.9 500.1Z"/><path d="M649.4 499.9L660.5 504.1L654 508L643 503.8Z"/><path d="M660.5 504.1L671.5 508.2L665.1 512.6L654 508Z"/><path d="M671.5 508.2L682.6 511.9L676.2 516.5L665.1 512.6Z"/><path d="M682.6 511.9L693.7 514.3L687.3 518.7L676.2 516.5Z"/><path d="M693.7 514.3L704.8 514.7L698.4 519.1L687.3 518.7Z"/><path d="M704.8 514.7L715.9 513.6L709.4 517.4L698.4 519.1Z"/><path d="M715.9 513.6L726.9 510L720.5 514.4L709.4 517.4Z"/>
<path d="M288.4 189.3L299.4 180.7L293 184.7L282 192.4Z"/><path d="M299.4 180.7L310.5 178.4L304.1 180.7L293 184.7Z"/><path d="M310.5 178.4L321.6 183.4L315.2 185.9L304.1 180.7Z"/><path d="M321.6 183.4L332.7 189L326.3 191.9L315.2 185.9Z"/><path d="M332.7 189L343.8 196.5L337.4 200.4L326.3 191.9Z"/><path d="M343.8 196.5L354.9 205.8L348.4 210.5L337.4 200.4Z"/><path d="M354.9 205.8L365.9 217.5L359.5 220.8L348.4 210.5Z"/><path d="M365.9 217.5L377 233.2L370.6 236.2L359.5 220.8Z"/><path d="M377 233.2L388.1 252.3L381.7 256.1L370.6 236.2Z"/><path d="M388.1 252.3L399.2 273.1L392.8 277.6L381.7 256.1Z"/><path d="M399.2 273.1L410.3 307.2L403.8 310.7L392.8 277.6Z"/><path d="M410.3 307.2L421.3 339.3L414.9 342.7L403.8 310.7Z"/><path d="M421.3 339.3L432.4 361.5L426 364.4L414.9 342.7Z"/><path d="M432.4 361.5L443.5 377.2L437.1 380.6L426 364.4Z"/><path d="M443.5 377.2L454.6 391.2L448.2 395.4L437.1 380.6Z"/><path d="M454.6 391.2L465.7 403.8L459.3 407.8L448.2 395.4Z"/><path d="M465.7 403.8L476.7 414.7L470.3 418.6L459.3 407.8Z"/><path d="M476.7 414.7L487.8 423.6L481.4 428L470.3 418.6Z"/><path d="M487.8 423.6L498.9 431.3L492.5 435.4L481.4 428Z"/><path d="M498.9 431.3L510 439.3L503.6 443.2L492.5 435.4Z"/><path d="M510 439.3L521.1 447.4L514.7 451.6L503.6 443.2Z"/><path d="M521.1 447.4L532.1 454.5L525.7 458.4L514.7 451.6Z"/><path d="M532.1 454.5L543.2 460.2L536.8 464.7L525.7 458.4Z"/><path d="M543.2 460.2L554.3 465.8L547.9 470.2L536.8 464.7Z"/><path d="M554.3 465.8L565.4 470.9L559 474.9L547.9 470.2Z"/><path d="M565.4 470.9L576.5 475.8L570.1 479.7L559 474.9Z"/><path d="M576.5 475.8L587.6 480.1L581.1 484.5L570.1 479.7Z"/><path d="M587.6 480.1L598.6 484.6L592.2 488.4L581.1 484.5Z"/><path d="M598.6 484.6L609.7 490L603.3 493.5L592.2 488.4Z"/><path d="M609.7 490L620.8 495.1L614.4 498.9L603.3 493.5Z"/><path d="M620.8 495.1L631.9 500.1L625.5 503.8L614.4 498.9Z"/><path d="M631.9 500.1L643 503.8L636.6 508.1L625.5 503.8Z"/><path d="M643 503.8L654 508L647.6 512.6L636.6 508.1Z"/><path d="M654 508L665.1 512.6L658.7 516.8L647.6 512.6Z"/><path d="M665.1 512.6L676.2 516.5L669.8 520.5L658.7 516.8Z"/><path d="M676.2 516.5L687.3 518.7L680.9 522.5L669.8 520.5Z"/><path d="M687.3 518.7L698.4 519.1L692 523L680.9 522.5Z"/><path d="M698.4 519.1L709.4 517.4L703 521.7L692 523Z"/><path d="M709.4 517.4L720.5 514.4L714.1 518.4L703 521.7Z"/>
<path d="M282 192.4L293 184.7L286.6 187.7L275.5 196.5Z"/><path d="M293 184.7L304.1 180.7L297.7 185.3L286.6 187.7Z"/><path d="M304.1 180.7L315.2 185.9L308.8 190.8L297.7 185.3Z"/><path d="M315.2 185.9L326.3 191.9L319.9 196.2L308.8 190.8Z"/><path d="M326.3 191.9L337.4 200.4L331 204L319.9 196.2Z"/><path d="M337.4 200.4L348.4 210.5L342 214.9L331 204Z"/><path d="M348.4 210.5L359.5 220.8L353.1 225.9L342 214.9Z"/><path d="M359.5 220.8L370.6 236.2L364.2 240.8L353.1 225.9Z"/><path d="M370.6 236.2L381.7 256.1L375.3 258.6L364.2 240.8Z"/><path d="M381.7 256.1L392.8 277.6L386.4 281.9L375.3 258.6Z"/><path d="M392.8 277.6L403.8 310.7L397.4 317.5L386.4 281.9Z"/><path d="M403.8 310.7L414.9 342.7L408.5 347.9L397.4 317.5Z"/><path d="M414.9 342.7L426 364.4L419.6 368.9L408.5 347.9Z"/><path d="M426 364.4L437.1 380.6L430.7 384.4L419.6 368.9Z"/><path d="M437.1 380.6L448.2 395.4L441.8 399.4L430.7 384.4Z"/><path d="M448.2 395.4L459.3 407.8L452.8 412.1L441.8 399.4Z"/><path d="M459.3 407.8L470.3 418.6L463.9 423L452.8 412.1Z"/><path d="M470.3 418.6L481.4 428L475 432.1L463.9 423Z"/><path d="M481.4 428L492.5 435.4L486.1 439.5L475 432.1Z"/><path d="M492.5 435.4L503.6 443.2L497.2 447.1L486.1 439.5Z"/><path d="M503.6 443.2L514.7 451.6L508.3 455.4L497.2 447.1Z"/><path d="M514.7 451.6L525.7 458.4L519.3 462.9L508.3 455.4Z"/><path d="M525.7 458.4L536.8 464.7L530.4 468.9L519.3 462.9Z"/><path d="M536.8 464.7L547.9 470.2L541.5 474.1L530.4 468.9Z"/><path d="M547.9 470.2L559 474.9L552.6 479.5L541.5 474.1Z"/><path d="M559 474.9L570.1 479.7L563.7 484L552.6 479.5Z"/><path d="M570.1 479.7L581.1 484.5L574.7 488.6L563.7 484Z"/><path d="M581.1 484.5L592.2 488.4L585.8 492.6L574.7 488.6Z"/><path d="M592.2 488.4L603.3 493.5L596.9 498.1L585.8 492.6Z"/><path d="M603.3 493.5L614.4 498.9L608 503.4L596.9 498.1Z"/><path d="M614.4 498.9L625.5 503.8L619.1 508.2L608 503.4Z"/><path d="M625.5 503.8L636.6 508.1L630.1 512.7L619.1 508.2Z"/><path d="M636.6 508.1L647.6 512.6L641.2 516.9L630.1 512.7Z"/><path d="M647.6 512.6L658.7 516.8L652.3 521.1L641.2 516.9Z"/><path d="M658.7 516.8L669.8 520.5L663.4 524.6L652.3 521.1Z"/><path d="M669.8 520.5L680.9 522.5L674.5 526.7L663.4 524.6Z"/><path d="M680.9 522.5L692 523L685.5 527.1L674.5 526.7Z"/><path d="M692 523L703 521.7L696.6 525.7L685.5 527.1Z"/><path d="M703 521.7L714.1 518.4L707.7 522.5L696.6 525.7Z"/>
<path d="M275.5 196.5L286.6 187.7L280.2 191.8L269.1 200.4Z"/><path d="M286.6 187.7L297.7 185.3L291.3 190.3L280.2 191.8Z"/><path d="M297.7 185.3L308.8 190.8L302.4 195.3L291.3 190.3Z"/><path d="M308.8 190.8L319.9 196.2L313.5 201.2L302.4 195.3Z"/><path d="M319.9 196.2L331 204L324.5 208L313.5 201.2Z"/><path d="M331 204L342 214.9L335.6 217.9L324.5 208Z"/><path d="M342 214.9L353.1 225.9L346.7 228.8L335.6 217.9Z"/><path d="M353.1 225.9L364.2 240.8L357.8 244L346.7 228.8Z"/><path d="M364.2 240.8L375.3 258.6L368.9 262.6L357.8 244Z"/><path d="M375.3 258.6L386.4 281.9L380 285.2L368.9 262.6Z"/><path d="M386.4 281.9L397.4 317.5L391 320.2L380 285.2Z"/><path d="M397.4 317.5L408.5 347.9L402.1 352.3L391 320.2Z"/><path d="M408.5 347.9L419.6 368.9L413.2 373.6L402.1 352.3Z"/><path d="M419.6 368.9L430.7 384.4L424.3 388.9L413.2 373.6Z"/><path d="M430.7 384.4L441.8 399.4L435.4 403.1L424.3 388.9Z"/><path d="M441.8 399.4L452.8 412.1L446.4 415.5L435.4 403.1Z"/><path d="M452.8 412.1L463.9 423L457.5 426.5L446.4 415.5Z"/><path d="M463.9 423L475 432.1L468.6 435.8L457.5 426.5Z"/><path d="M475 432.1L486.1 439.5L479.7 443.4L468.6 435.8Z"/><path d="M486.1 439.5L497.2 447.1L490.8 451.2L479.7 443.4Z"/><path d="M497.2 447.1L508.3 455.4L501.8 459.5L490.8 451.2Z"/><path d="M508.3 455.4L519.3 462.9L512.9 466.9L501.8 459.5Z"/><path d="M519.3 462.9L530.4 468.9L524 472.8L512.9 466.9Z"/><path d="M530.4 468.9L541.5 474.1L535.1 477.8L524 472.8Z"/><path d="M541.5 474.1L552.6 479.5L546.2 483L535.1 477.8Z"/><path d="M552.6 479.5L563.7 484L557.2 488L546.2 483Z"/><path d="M563.7 484L574.7 488.6L568.3 492.4L557.2 488Z"/><path d="M574.7 488.6L585.8 492.6L579.4 496.9L568.3 492.4Z"/><path d="M585.8 492.6L596.9 498.1L590.5 501.7L579.4 496.9Z"/><path d="M596.9 498.1L608 503.4L601.6 507.3L590.5 501.7Z"/><path d="M608 503.4L619.1 508.2L612.7 512.4L601.6 507.3Z"/><path d="M619.1 508.2L630.1 512.7L623.7 517L612.7 512.4Z"/><path d="M630.1 512.7L641.2 516.9L634.8 521.2L623.7 517Z"/><path d="M641.2 516.9L652.3 521.1L645.9 525.4L634.8 521.2Z"/><path d="M652.3 521.1L663.4 524.6L657 528.8L645.9 525.4Z"/><path d="M663.4 524.6L674.5 526.7L668.1 530.8L657 528.8Z"/><path d="M674.5 526.7L685.5 527.1L679.1 531.1L668.1 530.8Z"/><path d="M685.5 527.1L696.6 525.7L690.2 530.1L679.1 531.1Z"/><path d="M696.6 525.7L707.7 522.5L701.3 526.7L690.2 530.1Z"/>
<path d="M269.1 200.4L280.2 191.8L273.8 195.3L262.7 205Z"/><path d="M280.2 191.8L291.3 190.3L284.9 194.1L273.8 195.3Z"/><path d="M291.3 190.3L302.4 195.3L296 197.7L284.9 194.1Z"/><path d="M302.4 195.3L313.5 201.2L307.1 203.8L296 197.7Z"/><path d="M313.5 201.2L324.5 208L318.1 211.1L307.1 203.8Z"/><path d="M324.5 208L335.6 217.9L329.2 221.4L318.1 211.1Z"/><path d="M335.6 217.9L346.7 228.8L340.3 233.8L329.2 221.4Z"/><path d="M346.7 228.8L357.8 244L351.4 247.7L340.3 233.8Z"/><path d="M357.8 244L368.9 262.6L362.5 266.6L351.4 247.7Z"/><path d="M368.9 262.6L380 285.2L373.5 290.8L362.5 266.6Z"/><path d="M380 285.2L391 320.2L384.6 323.7L373.5 290.8Z"/><path d="M391 320.2L402.1 352.3L395.7 355.3L384.6 323.7Z"/><path d="M402.1 352.3L413.2 373.6L406.8 377.3L395.7 355.3Z"/><path d="M413.2 373.6L424.3 388.9L417.9 393.2L406.8 377.3Z"/><path d="M424.3 388.9L435.4 403.1L428.9 407.5L417.9 393.2Z"/><path d="M435.4 403.1L446.4 415.5L440 420.7L428.9 407.5Z"/><path d="M446.4 415.5L457.5 426.5L451.1 430.8L440 420.7Z"/><path d="M457.5 426.5L468.6 435.8L462.2 440L451.1 430.8Z"/><path d="M468.6 435.8L479.7 443.4L473.3 447.4L462.2 440Z"/><path d="M479.7 443.4L490.8 451.2L484.4 455.4L473.3 447.4Z"/><path d="M490.8 451.2L501.8 459.5L495.4 463.1L484.4 455.4Z"/><path d="M501.8 459.5L512.9 466.9L506.5 470.2L495.4 463.1Z"/><path d="M512.9 466.9L524 472.8L517.6 476.6L506.5 470.2Z"/><path d="M524 472.8L535.1 477.8L528.7 481.8L517.6 476.6Z"/><path d="M535.1 477.8L546.2 483L539.8 487.1L528.7 481.8Z"/><path d="M546.2 483L557.2 488L550.8 491.9L539.8 487.1Z"/><path d="M557.2 488L568.3 492.4L561.9 496.3L550.8 491.9Z"/><path d="M568.3 492.4L579.4 496.9L573 500.9L561.9 496.3Z"/><path d="M579.4 496.9L590.5 501.7L584.1 505.9L573 500.9Z"/><path d="M590.5 501.7L601.6 507.3L595.2 511.1L584.1 505.9Z"/><path d="M601.6 507.3L612.7 512.4L606.2 516.2L595.2 511.1Z"/><path d="M612.7 512.4L623.7 517L617.3 520.4L606.2 516.2Z"/><path d="M623.7 517L634.8 521.2L628.4 525.2L617.3 520.4Z"/><path d="M634.8 521.2L645.9 525.4L639.5 529.4L628.4 525.2Z"/><path d="M645.9 525.4L657 528.8L650.6 532.7L639.5 529.4Z"/><path d="M657 528.8L668.1 530.8L661.6 534.8L650.6 532.7Z"/><path d="M668.1 530.8L679.1 531.1L672.7 535.6L661.6 534.8Z"/><path d="M679.1 531.1L690.2 530.1L683.8 534.4L672.7 535.6Z"/><path d="M690.2 530.1L701.3 526.7L694.9 530.7L683.8 534.4Z"/>
<path d="M262.7 205L273.8 195.3L267.4 199.9L256.3 207.7Z"/><path d="M273.8 195.3L284.9 194.1L278.5 198.4L267.4 199.9Z"/><path d="M284.9 194.1L296 197.7L289.6 202.2L278.5 198.4Z"/><path d="M296 197.7L307.1 203.8L300.6 208.3L289.6 202.2Z"/><path d="M307.1 203.8L318.1 211.1L311.7 215.1L300.6 208.3Z"/><path d="M318.1 211.1L329.2 221.4L322.8 224.8L311.7 215.1Z"/><path d="M329.2 221.4L340.3 233.8L333.9 237.1L322.8 224.8Z"/><path d="M340.3 233.8L351.4 247.7L345 250.5L333.9 237.1Z"/><path d="M351.4 247.7L362.5 266.6L356.1 269.9L345 250.5Z"/><path d="M362.5 266.6L373.5 290.8L367.1 293.7L356.1 269.9Z"/><path d="M373.5 290.8L384.6 323.7L378.2 327.5L367.1 293.7Z"/><path d="M384.6 323.7L395.7 355.3L389.3 358.9L378.2 327.5Z"/><path d="M395.7 355.3L406.8 377.3L400.4 381.1L389.3 358.9Z"/><path d="M406.8 377.3L417.9 393.2L411.5 397.1L400.4 381.1Z"/><path d="M417.9 393.2L428.9 407.5L422.5 411.5L411.5 397.1Z"/><path d="M428.9 407.5L440 420.7L433.6 424.5L422.5 411.5Z"/><path d="M440 420.7L451.1 430.8L444.7 434.7L433.6 424.5Z"/><path d="M451.1 430.8L462.2 440L455.8 444L444.7 434.7Z"/><path d="M462.2 440L473.3 447.4L466.9 451.6L455.8 444Z"/><path d="M473.3 447.4L484.4 455.4L477.9 459.5L466.9 451.6Z"/><path d="M484.4 455.4L495.4 463.1L489 467L477.9 459.5Z"/><path d="M495.4 463.1L506.5 470.2L500.1 474.6L489 467Z"/><path d="M506.5 470.2L517.6 476.6L511.2 480.4L500.1 474.6Z"/><path d="M517.6 476.6L528.7 481.8L522.3 485.9L511.2 480.4Z"/><path d="M528.7 481.8L539.8 487.1L533.3 491.5L522.3 485.9Z"/><path d="M539.8 487.1L550.8 491.9L544.4 495.9L533.3 491.5Z"/><path d="M550.8 491.9L561.9 496.3L555.5 500.4L544.4 495.9Z"/><path d="M561.9 496.3L573 500.9L566.6 504.6L555.5 500.4Z"/><path d="M573 500.9L584.1 505.9L577.7 509.9L566.6 504.6Z"/><path d="M584.1 505.9L595.2 511.1L588.8 514.9L577.7 509.9Z"/><path d="M595.2 511.1L606.2 516.2L599.8 520L588.8 514.9Z"/><path d="M606.2 516.2L617.3 520.4L610.9 524.7L599.8 520Z"/><path d="M617.3 520.4L628.4 525.2L622 528.8L610.9 524.7Z"/><path d="M628.4 525.2L639.5 529.4L633.1 533.4L622 528.8Z"/><path d="M639.5 529.4L650.6 532.7L644.2 536.8L633.1 533.4Z"/><path d="M650.6 532.7L661.6 534.8L655.2 538.9L644.2 536.8Z"/><path d="M661.6 534.8L672.7 535.6L666.3 539.6L655.2 538.9Z"/><path d="M672.7 535.6L683.8 534.4L677.4 538.3L666.3 539.6Z"/><path d="M683.8 534.4L694.9 530.7L688.5 535L677.4 538.3Z"/>
<path d="M256.3 207.7L267.4 199.9L261 204.9L249.9 212.3Z"/><path d="M267.4 199.9L278.5 198.4L272.1 201.6L261 204.9Z"/><path d="M278.5 198.4L289.6 202.2L283.2 205.3L272.1 201.6Z"/><path d="M289.6 202.2L300.6 208.3L294.2 211.5L283.2 205.3Z"/><path d="M300.6 208.3L311.7 215.1L305.3 218.2L294.2 211.5Z"/><path d="M311.7 215.1L322.8 224.8L316.4 229.1L305.3 218.2Z"/><path d="M322.8 224.8L333.9 237.1L327.5 241.8L316.4 229.1Z"/><path d="M333.9 237.1L345 250.5L338.6 256.3L327.5 241.8Z"/><path d="M345 250.5L356.1 269.9L349.6 274.8L338.6 256.3Z"/><path d="M356.1 269.9L367.1 293.7L360.7 297.8L349.6 274.8Z"/><path d="M367.1 293.7L378.2 327.5L371.8 332.3L360.7 297.8Z"/><path d="M378.2 327.5L389.3 358.9L382.9 364.3L371.8 332.3Z"/><path d="M389.3 358.9L400.4 381.1L394 385.2L382.9 364.3Z"/><path d="M400.4 381.1L411.5 397.1L405 401L394 385.2Z"/><path d="M411.5 397.1L422.5 411.5L416.1 415.2L405 401Z"/><path d="M422.5 411.5L433.6 424.5L427.2 428.2L416.1 415.2Z"/><path d="M433.6 424.5L444.7 434.7L438.3 438.5L427.2 428.2Z"/><path d="M444.7 434.7L455.8 444L449.4 448.3L438.3 438.5Z"/><path d="M455.8 444L466.9 451.6L460.5 455.8L449.4 448.3Z"/><path d="M466.9 451.6L477.9 459.5L471.5 463.6L460.5 455.8Z"/><path d="M477.9 459.5L489 467L482.6 471.2L471.5 463.6Z"/><path d="M489 467L500.1 474.6L493.7 478.7L482.6 471.2Z"/><path d="M500.1 474.6L511.2 480.4L504.8 484.4L493.7 478.7Z"/><path d="M511.2 480.4L522.3 485.9L515.9 490.1L504.8 484.4Z"/><path d="M522.3 485.9L533.3 491.5L526.9 495.5L515.9 490.1Z"/><path d="M533.3 491.5L544.4 495.9L538 499.7L526.9 495.5Z"/><path d="M544.4 495.9L555.5 500.4L549.1 505L538 499.7Z"/><path d="M555.5 500.4L566.6 504.6L560.2 508.8L549.1 505Z"/><path d="M566.6 504.6L577.7 509.9L571.3 513.7L560.2 508.8Z"/><path d="M577.7 509.9L588.8 514.9L582.3 518.7L571.3 513.7Z"/><path d="M588.8 514.9L599.8 520L593.4 523.7L582.3 518.7Z"/><path d="M599.8 520L610.9 524.7L604.5 528.7L593.4 523.7Z"/><path d="M610.9 524.7L622 528.8L615.6 532.7L604.5 528.7Z"/><path d="M622 528.8L633.1 533.4L626.7 537.4L615.6 532.7Z"/><path d="M633.1 533.4L644.2 536.8L637.8 540.7L626.7 537.4Z"/><path d="M644.2 536.8L655.2 538.9L648.8 542.7L637.8 540.7Z"/><path d="M655.2 538.9L666.3 539.6L659.9 543.6L648.8 542.7Z"/><path d="M666.3 539.6L677.4 538.3L671 542.2L659.9 543.6Z"/><path d="M677.4 538.3L688.5 535L682.1 538.8L671 542.2Z"/>
<path d="M249.9 212.3L261 204.9L254.6 207.8L243.5 216.5Z"/><path d="M261 204.9L272.1 201.6L265.7 205.6L254.6 207.8Z"/><path d="M272.1 201.6L283.2 205.3L276.7 209.9L265.7 205.6Z"/><path d="M283.2 205.3L294.2 211.5L287.8 215.7L276.7 209.9Z"/><path d="M294.2 211.5L305.3 218.2L298.9 223.5L287.8 215.7Z"/><path d="M305.3 218.2L316.4 229.1L310 234.9L298.9 223.5Z"/><path d="M316.4 229.1L327.5 241.8L321.1 246.8L310 234.9Z"/><path d="M327.5 241.8L338.6 256.3L332.2 260.8L321.1 246.8Z"/><path d="M338.6 256.3L349.6 274.8L343.2 278.9L332.2 260.8Z"/><path d="M349.6 274.8L360.7 297.8L354.3 301L343.2 278.9Z"/><path d="M360.7 297.8L371.8 332.3L365.4 336.4L354.3 301Z"/><path d="M371.8 332.3L382.9 364.3L376.5 367.4L365.4 336.4Z"/><path d="M382.9 364.3L394 385.2L387.6 388.4L376.5 367.4Z"/><path d="M394 385.2L405 401L398.6 404L387.6 388.4Z"/><path d="M405 401L416.1 415.2L409.7 418.9L398.6 404Z"/><path d="M416.1 415.2L427.2 428.2L420.8 431.4L409.7 418.9Z"/><path d="M427.2 428.2L438.3 438.5L431.9 442.2L420.8 431.4Z"/><path d="M438.3 438.5L449.4 448.3L443 451.7L431.9 442.2Z"/><path d="M449.4 448.3L460.5 455.8L454 459.2L443 451.7Z"/><path d="M460.5 455.8L471.5 463.6L465.1 467.2L454 459.2Z"/><path d="M471.5 463.6L482.6 471.2L476.2 475.3L465.1 467.2Z"/><path d="M482.6 471.2L493.7 478.7L487.3 482.7L476.2 475.3Z"/><path d="M493.7 478.7L504.8 484.4L498.4 488.3L487.3 482.7Z"/><path d="M504.8 484.4L515.9 490.1L509.4 494L498.4 488.3Z"/><path d="M515.9 490.1L526.9 495.5L520.5 499L509.4 494Z"/><path d="M526.9 495.5L538 499.7L531.6 503.5L520.5 499Z"/><path d="M538 499.7L549.1 505L542.7 508.7L531.6 503.5Z"/><path d="M549.1 505L560.2 508.8L553.8 512.5L542.7 508.7Z"/><path d="M560.2 508.8L571.3 513.7L564.9 517.2L553.8 512.5Z"/><path d="M571.3 513.7L582.3 518.7L575.9 522.8L564.9 517.2Z"/><path d="M582.3 518.7L593.4 523.7L587 527.8L575.9 522.8Z"/><path d="M593.4 523.7L604.5 528.7L598.1 532.2L587 527.8Z"/><path d="M604.5 528.7L615.6 532.7L609.2 536.4L598.1 532.2Z"/><path d="M615.6 532.7L626.7 537.4L620.3 540.9L609.2 536.4Z"/><path d="M626.7 537.4L637.8 540.7L631.3 544.4L620.3 540.9Z"/><path d="M637.8 540.7L648.8 542.7L642.4 546.8L631.3 544.4Z"/><path d="M648.8 542.7L659.9 543.6L653.5 547.5L642.4 546.8Z"/><path d="M659.9 543.6L671 542.2L664.6 545.9L653.5 547.5Z"/><path d="M671 542.2L682.1 538.8L675.7 542.6L664.6 545.9Z"/>
<path d="M243.5 216.5L254.6 207.8L248.2 210.6L237.1 219.6Z"/><path d="M254.6 207.8L265.7 205.6L259.3 210.4L248.2 210.6Z"/><path d="M265.7 205.6L276.7 209.9L270.3 214.5L259.3 210.4Z"/><path d="M276.7 209.9L287.8 215.7L281.4 219.2L270.3 214.5Z"/><path d="M287.8 215.7L298.9 223.5L292.5 227.4L281.4 219.2Z"/><path d="M298.9 223.5L310 234.9L303.6 237.3L292.5 227.4Z"/><path d="M310 234.9L321.1 246.8L314.7 249.3L303.6 237.3Z"/><path d="M321.1 246.8L332.2 260.8L325.7 264.2L314.7 249.3Z"/><path d="M332.2 260.8L343.2 278.9L336.8 283.5L325.7 264.2Z"/><path d="M343.2 278.9L354.3 301L347.9 305.5L336.8 283.5Z"/><path d="M354.3 301L365.4 336.4L359 340.3L347.9 305.5Z"/><path d="M365.4 336.4L376.5 367.4L370.1 371.8L359 340.3Z"/><path d="M376.5 367.4L387.6 388.4L381.1 393.6L370.1 371.8Z"/><path d="M387.6 388.4L398.6 404L392.2 408.5L381.1 393.6Z"/><path d="M398.6 404L409.7 418.9L403.3 423.6L392.2 408.5Z"/><path d="M409.7 418.9L420.8 431.4L414.4 435.8L403.3 423.6Z"/><path d="M420.8 431.4L431.9 442.2L425.5 446.8L414.4 435.8Z"/><path d="M431.9 442.2L443 451.7L436.6 456.1L425.5 446.8Z"/><path d="M443 451.7L454 459.2L447.6 463.5L436.6 456.1Z"/><path d="M454 459.2L465.1 467.2L458.7 471.6L447.6 463.5Z"/><path d="M465.1 467.2L476.2 475.3L469.8 479.2L458.7 471.6Z"/><path d="M476.2 475.3L487.3 482.7L480.9 486.4L469.8 479.2Z"/><path d="M487.3 482.7L498.4 488.3L492 492.1L480.9 486.4Z"/><path d="M498.4 488.3L509.4 494L503 497.9L492 492.1Z"/><path d="M509.4 494L520.5 499L514.1 503.1L503 497.9Z"/><path d="M520.5 499L531.6 503.5L525.2 507.9L514.1 503.1Z"/><path d="M531.6 503.5L542.7 508.7L536.3 513.1L525.2 507.9Z"/><path d="M542.7 508.7L553.8 512.5L547.4 516.8L536.3 513.1Z"/><path d="M553.8 512.5L564.9 517.2L558.4 521.5L547.4 516.8Z"/><path d="M564.9 517.2L575.9 522.8L569.5 526.9L558.4 521.5Z"/><path d="M575.9 522.8L587 527.8L580.6 531.7L569.5 526.9Z"/><path d="M587 527.8L598.1 532.2L591.7 536.1L580.6 531.7Z"/><path d="M598.1 532.2L609.2 536.4L602.8 540.2L591.7 536.1Z"/><path d="M609.2 536.4L620.3 540.9L613.9 544.5L602.8 540.2Z"/><path d="M620.3 540.9L631.3 544.4L624.9 547.9L613.9 544.5Z"/><path d="M631.3 544.4L642.4 546.8L636 550.4L624.9 547.9Z"/><path d="M642.4 546.8L653.5 547.5L647.1 550.9L636 550.4Z"/><path d="M653.5 547.5L664.6 545.9L658.2 549.3L647.1 550.9Z"/><path d="M664.6 545.9L675.7 542.6L669.3 546.2L658.2 549.3Z"/>
<path d="M237.1 219.6L248.2 210.6L241.8 215.8L230.7 224.5Z"/><path d="M248.2 210.6L259.3 210.4L252.8 213.7L241.8 215.8Z"/><path d="M259.3 210.4L270.3 214.5L263.9 218.5L252.8 213.7Z"/><path d="M270.3 214.5L281.4 219.2L275 224.1L263.9 218.5Z"/><path d="M281.4 219.2L292.5 227.4L286.1 231.8L275 224.1Z"/><path d="M292.5 227.4L303.6 237.3L297.2 240.5L286.1 231.8Z"/><path d="M303.6 237.3L314.7 249.3L308.3 252.6L297.2 240.5Z"/><path d="M314.7 249.3L325.7 264.2L319.3 268.5L308.3 252.6Z"/><path d="M325.7 264.2L336.8 283.5L330.4 288.9L319.3 268.5Z"/><path d="M336.8 283.5L347.9 305.5L341.5 309.7L330.4 288.9Z"/><path d="M347.9 305.5L359 340.3L352.6 343.2L341.5 309.7Z"/><path d="M359 340.3L370.1 371.8L363.7 375.9L352.6 343.2Z"/><path d="M370.1 371.8L381.1 393.6L374.7 397.7L363.7 375.9Z"/><path d="M381.1 393.6L392.2 408.5L385.8 412.3L374.7 397.7Z"/><path d="M392.2 408.5L403.3 423.6L396.9 427L385.8 412.3Z"/><path d="M403.3 423.6L414.4 435.8L408 439.8L396.9 427Z"/><path d="M414.4 435.8L425.5 446.8L419.1 450.3L408 439.8Z"/><path d="M425.5 446.8L436.6 456.1L430.1 460.3L419.1 450.3Z"/><path d="M436.6 456.1L447.6 463.5L441.2 467.6L430.1 460.3Z"/><path d="M447.6 463.5L458.7 471.6L452.3 475.3L441.2 467.6Z"/><path d="M458.7 471.6L469.8 479.2L463.4 482.9L452.3 475.3Z"/><path d="M469.8 479.2L480.9 486.4L474.5 490L463.4 482.9Z"/><path d="M480.9 486.4L492 492.1L485.6 495.9L474.5 490Z"/><path d="M492 492.1L503 497.9L496.6 501.5L485.6 495.9Z"/><path d="M503 497.9L514.1 503.1L507.7 506.8L496.6 501.5Z"/><path d="M514.1 503.1L525.2 507.9L518.8 511.5L507.7 506.8Z"/><path d="M525.2 507.9L536.3 513.1L529.9 516.2L518.8 511.5Z"/><path d="M536.3 513.1L547.4 516.8L541 520.2L529.9 516.2Z"/><path d="M547.4 516.8L558.4 521.5L552 525.8L541 520.2Z"/><path d="M558.4 521.5L569.5 526.9L563.1 530.6L552 525.8Z"/><path d="M569.5 526.9L580.6 531.7L574.2 535.7L563.1 530.6Z"/><path d="M580.6 531.7L591.7 536.1L585.3 540.1L574.2 535.7Z"/><path d="M591.7 536.1L602.8 540.2L596.4 543.9L585.3 540.1Z"/><path d="M602.8 540.2L613.9 544.5L607.4 548.4L596.4 543.9Z"/><path d="M613.9 544.5L624.9 547.9L618.5 551.9L607.4 548.4Z"/><path d="M624.9 547.9L636 550.4L629.6 553.7L618.5 551.9Z"/><path d="M636 550.4L647.1 550.9L640.7 554.4L629.6 553.7Z"/><path d="M647.1 550.9L658.2 549.3L651.8 552.8L640.7 554.4Z"/><path d="M658.2 549.3L669.3 546.2L662.8 549.6L651.8 552.8Z"/>
<path d="M230.7 224.5L241.8 215.8L235.4 220.8L224.3 229.1Z"/><path d="M241.8 215.8L252.8 213.7L246.4 218L235.4 220.8Z"/><path d="M252.8 213.7L263.9 218.5L257.5 222.3L246.4 218Z"/><path d="M263.9 218.5L275 224.1L268.6 229.3L257.5 222.3Z"/><path d="M275 224.1L286.1 231.8L279.7 235.4L268.6 229.3Z"/><path d="M286.1 231.8L297.2 240.5L290.8 245.3L279.7 235.4Z"/><path d="M297.2 240.5L308.3 252.6L301.8 257.2L290.8 245.3Z"/><path d="M308.3 252.6L319.3 268.5L312.9 271.9L301.8 257.2Z"/><path d="M319.3 268.5L330.4 288.9L324 291.7L312.9 271.9Z"/><path d="M330.4 288.9L341.5 309.7L335.1 313.1L324 291.7Z"/><path d="M341.5 309.7L352.6 343.2L346.2 346.6L335.1 313.1Z"/><path d="M352.6 343.2L363.7 375.9L357.2 379.2L346.2 346.6Z"/><path d="M363.7 375.9L374.7 397.7L368.3 400.8L357.2 379.2Z"/><path d="M374.7 397.7L385.8 412.3L379.4 416.5L368.3 400.8Z"/><path d="M385.8 412.3L396.9 427L390.5 431L379.4 416.5Z"/><path d="M396.9 427L408 439.8L401.6 444L390.5 431Z"/><path d="M408 439.8L419.1 450.3L412.7 454.2L401.6 444Z"/><path d="M419.1 450.3L430.1 460.3L423.7 463.9L412.7 454.2Z"/><path d="M430.1 460.3L441.2 467.6L434.8 471.5L423.7 463.9Z"/><path d="M441.2 467.6L452.3 475.3L445.9 479L434.8 471.5Z"/><path d="M452.3 475.3L463.4 482.9L457 486.7L445.9 479Z"/><path d="M463.4 482.9L474.5 490L468.1 493.9L457 486.7Z"/><path d="M474.5 490L485.6 495.9L479.1 499.8L468.1 493.9Z"/><path d="M485.6 495.9L496.6 501.5L490.2 504.9L479.1 499.8Z"/><path d="M496.6 501.5L507.7 506.8L501.3 510.4L490.2 504.9Z"/><path d="M507.7 506.8L518.8 511.5L512.4 515.1L501.3 510.4Z"/><path d="M518.8 511.5L529.9 516.2L523.5 520L512.4 515.1Z"/><path d="M529.9 516.2L541 520.2L534.5 524L523.5 520Z"/><path d="M541 520.2L552 525.8L545.6 529.1L534.5 524Z"/><path d="M552 525.8L563.1 530.6L556.7 534.3L545.6 529.1Z"/><path d="M563.1 530.6L574.2 535.7L567.8 539.2L556.7 534.3Z"/><path d="M574.2 535.7L585.3 540.1L578.9 543.7L567.8 539.2Z"/><path d="M585.3 540.1L596.4 543.9L590 547.6L578.9 543.7Z"/><path d="M596.4 543.9L607.4 548.4L601 552.2L590 547.6Z"/><path d="M607.4 548.4L618.5 551.9L612.1 555.5L601 552.2Z"/><path d="M618.5 551.9L629.6 553.7L623.2 557.9L612.1 555.5Z"/><path d="M629.6 553.7L640.7 554.4L634.3 558.5L623.2 557.9Z"/><path d="M640.7 554.4L651.8 552.8L645.4 556.9L634.3 558.5Z"/><path d="M651.8 552.8L662.8 549.6L656.4 553.8L645.4 556.9Z"/>
<path d="M224.3 229.1L235.4 220.8L228.9 224.7L217.9 232.8Z"/><path d="M235.4 220.8L246.4 218L240 221L228.9 224.7Z"/><path d="M246.4 218L257.5 222.3L251.1 225.9L240 221Z"/><path d="M257.5 222.3L268.6 229.3L262.2 232.8L251.1 225.9Z"/><path d="M268.6 229.3L279.7 235.4L273.3 239L262.2 232.8Z"/><path d="M279.7 235.4L290.8 245.3L284.4 249.6L273.3 239Z"/><path d="M290.8 245.3L301.8 257.2L295.4 261L284.4 249.6Z"/><path d="M301.8 257.2L312.9 271.9L306.5 274.9L295.4 261Z"/><path d="M312.9 271.9L324 291.7L317.6 294.5L306.5 274.9Z"/><path d="M324 291.7L335.1 313.1L328.7 317.5L317.6 294.5Z"/><path d="M335.1 313.1L346.2 346.6L339.8 351.7L328.7 317.5Z"/><path d="M346.2 346.6L357.2 379.2L350.8 384L339.8 351.7Z"/><path d="M357.2 379.2L368.3 400.8L361.9 405L350.8 384Z"/><path d="M368.3 400.8L379.4 416.5L373 420.9L361.9 405Z"/><path d="M379.4 416.5L390.5 431L384.1 435.3L373 420.9Z"/><path d="M390.5 431L401.6 444L395.2 447.6L384.1 435.3Z"/><path d="M401.6 444L412.7 454.2L406.2 458.1L395.2 447.6Z"/><path d="M412.7 454.2L423.7 463.9L417.3 467.4L406.2 458.1Z"/><path d="M423.7 463.9L434.8 471.5L428.4 475.1L417.3 467.4Z"/><path d="M434.8 471.5L445.9 479L439.5 482.7L428.4 475.1Z"/><path d="M445.9 479L457 486.7L450.6 491L439.5 482.7Z"/><path d="M457 486.7L468.1 493.9L461.7 497.9L450.6 491Z"/><path d="M468.1 493.9L479.1 499.8L472.7 503.8L461.7 497.9Z"/><path d="M479.1 499.8L490.2 504.9L483.8 509L472.7 503.8Z"/><path d="M490.2 504.9L501.3 510.4L494.9 514.5L483.8 509Z"/><path d="M501.3 510.4L512.4 515.1L506 519L494.9 514.5Z"/><path d="M512.4 515.1L523.5 520L517.1 523.9L506 519Z"/><path d="M523.5 520L534.5 524L528.1 528L517.1 523.9Z"/><path d="M534.5 524L545.6 529.1L539.2 533.1L528.1 528Z"/><path d="M545.6 529.1L556.7 534.3L550.3 538L539.2 533.1Z"/><path d="M556.7 534.3L567.8 539.2L561.4 542.9L550.3 538Z"/><path d="M567.8 539.2L578.9 543.7L572.5 547.4L561.4 542.9Z"/><path d="M578.9 543.7L590 547.6L583.5 551.5L572.5 547.4Z"/><path d="M590 547.6L601 552.2L594.6 555.5L583.5 551.5Z"/><path d="M601 552.2L612.1 555.5L605.7 559.5L594.6 555.5Z"/><path d="M612.1 555.5L623.2 557.9L616.8 561.7L605.7 559.5Z"/><path d="M623.2 557.9L634.3 558.5L627.9 562.2L616.8 561.7Z"/><path d="M634.3 558.5L645.4 556.9L638.9 560.8L627.9 562.2Z"/><path d="M645.4 556.9L656.4 553.8L650 557.6L638.9 560.8Z"/>
<path d="M217.9 232.8L228.9 224.7L222.5 229L211.5 237.6Z"/><path d="M228.9 224.7L240 221L233.6 225.6L222.5 229Z"/><path d="M240 221L251.1 225.9L244.7 230.1L233.6 225.6Z"/><path d="M251.1 225.9L262.2 232.8L255.8 235.7L244.7 230.1Z"/><path d="M262.2 232.8L273.3 239L266.9 243.5L255.8 235.7Z"/><path d="M273.3 239L284.4 249.6L277.9 253.2L266.9 243.5Z"/><path d="M284.4 249.6L295.4 261L289 264.2L277.9 253.2Z"/><path d="M295.4 261L306.5 274.9L300.1 278.3L289 264.2Z"/><path d="M306.5 274.9L317.6 294.5L311.2 298.1L300.1 278.3Z"/><path d="M317.6 294.5L328.7 317.5L322.3 320.8L311.2 298.1Z"/><path d="M328.7 317.5L339.8 351.7L333.4 356L322.3 320.8Z"/><path d="M339.8 351.7L350.8 384L344.4 387.3L333.4 356Z"/><path d="M350.8 384L361.9 405L355.5 408.5L344.4 387.3Z"/><path d="M361.9 405L373 420.9L366.6 424.1L355.5 408.5Z"/><path d="M373 420.9L384.1 435.3L377.7 439L366.6 424.1Z"/><path d="M384.1 435.3L395.2 447.6L388.8 451.4L377.7 439Z"/><path d="M395.2 447.6L406.2 458.1L399.8 461.6L388.8 451.4Z"/><path d="M406.2 458.1L417.3 467.4L410.9 470.9L399.8 461.6Z"/><path d="M417.3 467.4L428.4 475.1L422 479L410.9 470.9Z"/><path d="M428.4 475.1L439.5 482.7L433.1 486.8L422 479Z"/><path d="M439.5 482.7L450.6 491L444.2 495L433.1 486.8Z"/><path d="M450.6 491L461.7 497.9L455.2 502L444.2 495Z"/><path d="M461.7 497.9L472.7 503.8L466.3 507.9L455.2 502Z"/><path d="M472.7 503.8L483.8 509L477.4 512.8L466.3 507.9Z"/><path d="M483.8 509L494.9 514.5L488.5 518.3L477.4 512.8Z"/><path d="M494.9 514.5L506 519L499.6 523.4L488.5 518.3Z"/><path d="M506 519L517.1 523.9L510.6 527.8L499.6 523.4Z"/><path d="M517.1 523.9L528.1 528L521.7 532.2L510.6 527.8Z"/><path d="M528.1 528L539.2 533.1L532.8 537.2L521.7 532.2Z"/><path d="M539.2 533.1L550.3 538L543.9 541.9L532.8 537.2Z"/><path d="M550.3 538L561.4 542.9L555 547.1L543.9 541.9Z"/><path d="M561.4 542.9L572.5 547.4L566.1 551.2L555 547.1Z"/><path d="M572.5 547.4L583.5 551.5L577.1 555.3L566.1 551.2Z"/><path d="M583.5 551.5L594.6 555.5L588.2 559L577.1 555.3Z"/><path d="M594.6 555.5L605.7 559.5L599.3 562.9L588.2 559Z"/><path d="M605.7 559.5L616.8 561.7L610.4 565.2L599.3 562.9Z"/><path d="M616.8 561.7L627.9 562.2L621.5 565.8L610.4 565.2Z"/><path d="M627.9 562.2L638.9 560.8L632.5 564.5L621.5 565.8Z"/><path d="M638.9 560.8L650 557.6L643.6 561.3L632.5 564.5Z"/>
<path d="M211.5 237.6L222.5 229L216.1 232.2L205.1 240.5Z"/><path d="M222.5 229L233.6 225.6L227.2 228.9L216.1 232.2Z"/><path d="M233.6 225.6L244.7 230.1L238.3 234L227.2 228.9Z"/><path d="M244.7 230.1L255.8 235.7L249.4 239.9L238.3 234Z"/><path d="M255.8 235.7L266.9 243.5L260.5 247.3L249.4 239.9Z"/><path d="M266.9 243.5L277.9 253.2L271.5 257.7L260.5 247.3Z"/><path d="M277.9 253.2L289 264.2L282.6 269.7L271.5 257.7Z"/><path d="M289 264.2L300.1 278.3L293.7 282.1L282.6 269.7Z"/><path d="M300.1 278.3L311.2 298.1L304.8 301.7L293.7 282.1Z"/><path d="M311.2 298.1L322.3 320.8L315.9 324.8L304.8 301.7Z"/><path d="M322.3 320.8L333.4 356L326.9 359.5L315.9 324.8Z"/><path d="M333.4 356L344.4 387.3L338 390.6L326.9 359.5Z"/><path d="M344.4 387.3L355.5 408.5L349.1 412.3L338 390.6Z"/><path d="M355.5 408.5L366.6 424.1L360.2 427.9L349.1 412.3Z"/><path d="M366.6 424.1L377.7 439L371.3 443.2L360.2 427.9Z"/><path d="M377.7 439L388.8 451.4L382.3 455.7L371.3 443.2Z"/><path d="M388.8 451.4L399.8 461.6L393.4 465.8L382.3 455.7Z"/><path d="M399.8 461.6L410.9 470.9L404.5 475.3L393.4 465.8Z"/><path d="M410.9 470.9L422 479L415.6 482.9L404.5 475.3Z"/><path d="M422 479L433.1 486.8L426.7 490.9L415.6 482.9Z"/><path d="M433.1 486.8L444.2 495L437.8 499L426.7 490.9Z"/><path d="M444.2 495L455.2 502L448.8 506.1L437.8 499Z"/><path d="M455.2 502L466.3 507.9L459.9 512L448.8 506.1Z"/><path d="M466.3 507.9L477.4 512.8L471 516.8L459.9 512Z"/><path d="M477.4 512.8L488.5 518.3L482.1 521.9L471 516.8Z"/><path d="M488.5 518.3L499.6 523.4L493.2 526.5L482.1 521.9Z"/><path d="M499.6 523.4L510.6 527.8L504.2 531.3L493.2 526.5Z"/><path d="M510.6 527.8L521.7 532.2L515.3 535.8L504.2 531.3Z"/><path d="M521.7 532.2L532.8 537.2L526.4 540.6L515.3 535.8Z"/><path d="M532.8 537.2L543.9 541.9L537.5 545.4L526.4 540.6Z"/><path d="M543.9 541.9L555 547.1L548.6 550.6L537.5 545.4Z"/><path d="M555 547.1L566.1 551.2L559.6 554.7L548.6 550.6Z"/><path d="M566.1 551.2L577.1 555.3L570.7 558.9L559.6 554.7Z"/><path d="M577.1 555.3L588.2 559L581.8 562.5L570.7 558.9Z"/><path d="M588.2 559L599.3 562.9L592.9 566.1L581.8 562.5Z"/><path d="M599.3 562.9L610.4 565.2L604 568.4L592.9 566.1Z"/><path d="M610.4 565.2L621.5 565.8L615.1 568.8L604 568.4Z"/><path d="M621.5 565.8L632.5 564.5L626.1 567.7L615.1 568.8Z"/><path d="M632.5 564.5L643.6 561.3L637.2 564.9L626.1 567.7Z"/>
<path d="M205.1 240.5L216.1 232.2L209.7 237L198.6 245.4Z"/><path d="M216.1 232.2L227.2 228.9L220.8 234.6L209.7 237Z"/><path d="M227.2 228.9L238.3 234L231.9 238.8L220.8 234.6Z"/><path d="M238.3 234L249.4 239.9L243 243.3L231.9 238.8Z"/><path d="M249.4 239.9L260.5 247.3L254 250.5L243 243.3Z"/><path d="M260.5 247.3L271.5 257.7L265.1 261L254 250.5Z"/><path d="M271.5 257.7L282.6 269.7L276.2 274.2L265.1 261Z"/><path d="M282.6 269.7L293.7 282.1L287.3 287.2L276.2 274.2Z"/><path d="M293.7 282.1L304.8 301.7L298.4 306.2L287.3 287.2Z"/><path d="M304.8 301.7L315.9 324.8L309.5 328.8L298.4 306.2Z"/><path d="M315.9 324.8L326.9 359.5L320.5 363.7L309.5 328.8Z"/><path d="M326.9 359.5L338 390.6L331.6 395.3L320.5 363.7Z"/><path d="M338 390.6L349.1 412.3L342.7 416.5L331.6 395.3Z"/><path d="M349.1 412.3L360.2 427.9L353.8 432.1L342.7 416.5Z"/><path d="M360.2 427.9L371.3 443.2L364.9 446.5L353.8 432.1Z"/><path d="M371.3 443.2L382.3 455.7L375.9 459.7L364.9 446.5Z"/><path d="M382.3 455.7L393.4 465.8L387 469.6L375.9 459.7Z"/><path d="M393.4 465.8L404.5 475.3L398.1 479.2L387 469.6Z"/><path d="M404.5 475.3L415.6 482.9L409.2 486.6L398.1 479.2Z"/><path d="M415.6 482.9L426.7 490.9L420.3 494.7L409.2 486.6Z"/><path d="M426.7 490.9L437.8 499L431.3 502.2L420.3 494.7Z"/><path d="M437.8 499L448.8 506.1L442.4 509.3L431.3 502.2Z"/><path d="M448.8 506.1L459.9 512L453.5 515.5L442.4 509.3Z"/><path d="M459.9 512L471 516.8L464.6 521.1L453.5 515.5Z"/><path d="M471 516.8L482.1 521.9L475.7 525.7L464.6 521.1Z"/><path d="M482.1 521.9L493.2 526.5L486.7 530.4L475.7 525.7Z"/><path d="M493.2 526.5L504.2 531.3L497.8 535.3L486.7 530.4Z"/><path d="M504.2 531.3L515.3 535.8L508.9 539.6L497.8 535.3Z"/><path d="M515.3 535.8L526.4 540.6L520 544.6L508.9 539.6Z"/><path d="M526.4 540.6L537.5 545.4L531.1 549.1L520 544.6Z"/><path d="M537.5 545.4L548.6 550.6L542.2 554.1L531.1 549.1Z"/><path d="M548.6 550.6L559.6 554.7L553.2 558.4L542.2 554.1Z"/><path d="M559.6 554.7L570.7 558.9L564.3 562.2L553.2 558.4Z"/><path d="M570.7 558.9L581.8 562.5L575.4 566.1L564.3 562.2Z"/><path d="M581.8 562.5L592.9 566.1L586.5 569.5L575.4 566.1Z"/><path d="M592.9 566.1L604 568.4L597.6 571.8L586.5 569.5Z"/><path d="M604 568.4L615.1 568.8L608.6 572.6L597.6 571.8Z"/><path d="M615.1 568.8L626.1 567.7L619.7 571.3L608.6 572.6Z"/><path d="M626.1 567.7L637.2 564.9L630.8 568.5L619.7 571.3Z"/>
<path d="M198.6 245.4L209.7 237L203.3 239.8L192.2 249.8Z"/><path d="M209.7 237L220.8 234.6L214.4 238.5L203.3 239.8Z"/><path d="M220.8 234.6L231.9 238.8L225.5 242.4L214.4 238.5Z"/><path d="M231.9 238.8L243 243.3L236.6 247.9L225.5 242.4Z"/><path d="M243 243.3L254 250.5L247.6 255.3L236.6 247.9Z"/><path d="M254 250.5L265.1 261L258.7 265.2L247.6 255.3Z"/><path d="M265.1 261L276.2 274.2L269.8 277.4L258.7 265.2Z"/><path d="M276.2 274.2L287.3 287.2L280.9 289.2L269.8 277.4Z"/><path d="M287.3 287.2L298.4 306.2L292 309.6L280.9 289.2Z"/><path d="M298.4 306.2L309.5 328.8L303 332.6L292 309.6Z"/><path d="M309.5 328.8L320.5 363.7L314.1 367.5L303 332.6Z"/><path d="M320.5 363.7L331.6 395.3L325.2 399.8L314.1 367.5Z"/><path d="M331.6 395.3L342.7 416.5L336.3 420.3L325.2 399.8Z"/><path d="M342.7 416.5L353.8 432.1L347.4 436.3L336.3 420.3Z"/><path d="M353.8 432.1L364.9 446.5L358.4 450.8L347.4 436.3Z"/><path d="M364.9 446.5L375.9 459.7L369.5 463.6L358.4 450.8Z"/><path d="M375.9 459.7L387 469.6L380.6 473.7L369.5 463.6Z"/><path d="M387 469.6L398.1 479.2L391.7 482.5L380.6 473.7Z"/><path d="M398.1 479.2L409.2 486.6L402.8 490.2L391.7 482.5Z"/><path d="M409.2 486.6L420.3 494.7L413.9 498.3L402.8 490.2Z"/><path d="M420.3 494.7L431.3 502.2L424.9 506L413.9 498.3Z"/><path d="M431.3 502.2L442.4 509.3L436 512.7L424.9 506Z"/><path d="M442.4 509.3L453.5 515.5L447.1 518.8L436 512.7Z"/><path d="M453.5 515.5L464.6 521.1L458.2 524.5L447.1 518.8Z"/><path d="M464.6 521.1L475.7 525.7L469.3 529.1L458.2 524.5Z"/><path d="M475.7 525.7L486.7 530.4L480.3 533.9L469.3 529.1Z"/><path d="M486.7 530.4L497.8 535.3L491.4 538.8L480.3 533.9Z"/><path d="M497.8 535.3L508.9 539.6L502.5 543.2L491.4 538.8Z"/><path d="M508.9 539.6L520 544.6L513.6 548.1L502.5 543.2Z"/><path d="M520 544.6L531.1 549.1L524.7 552.8L513.6 548.1Z"/><path d="M531.1 549.1L542.2 554.1L535.7 558.2L524.7 552.8Z"/><path d="M542.2 554.1L553.2 558.4L546.8 562.1L535.7 558.2Z"/><path d="M553.2 558.4L564.3 562.2L557.9 566L546.8 562.1Z"/><path d="M564.3 562.2L575.4 566.1L569 569.7L557.9 566Z"/><path d="M575.4 566.1L586.5 569.5L580.1 572.2L569 569.7Z"/><path d="M586.5 569.5L597.6 571.8L591.2 574.9L580.1 572.2Z"/><path d="M597.6 571.8L608.6 572.6L602.2 575.9L591.2 574.9Z"/><path d="M608.6 572.6L619.7 571.3L613.3 575.1L602.2 575.9Z"/><path d="M619.7 571.3L630.8 568.5L624.4 572.4L613.3 575.1Z"/>
<path d="M192.2 249.8L203.3 239.8L196.9 244.8L185.8 253.6Z"/><path d="M203.3 239.8L214.4 238.5L208 242.8L196.9 244.8Z"/><path d="M214.4 238.5L225.5 242.4L219.1 247.6L208 242.8Z"/><path d="M225.5 242.4L236.6 247.9L230.1 252.9L219.1 247.6Z"/><path d="M236.6 247.9L247.6 255.3L241.2 259.6L230.1 252.9Z"/><path d="M247.6 255.3L258.7 265.2L252.3 268.6L241.2 259.6Z"/><path d="M258.7 265.2L269.8 277.4L263.4 281.2L252.3 268.6Z"/><path d="M269.8 277.4L280.9 289.2L274.5 293.5L263.4 281.2Z"/><path d="M280.9 289.2L292 309.6L285.6 313.2L274.5 293.5Z"/><path d="M292 309.6L303 332.6L296.6 335.6L285.6 313.2Z"/><path d="M303 332.6L314.1 367.5L307.7 371.8L296.6 335.6Z"/><path d="M314.1 367.5L325.2 399.8L318.8 404.6L307.7 371.8Z"/><path d="M325.2 399.8L336.3 420.3L329.9 424.9L318.8 404.6Z"/><path d="M336.3 420.3L347.4 436.3L341 440L329.9 424.9Z"/><path d="M347.4 436.3L358.4 450.8L352 454.5L341 440Z"/><path d="M358.4 450.8L369.5 463.6L363.1 467L352 454.5Z"/><path d="M369.5 463.6L380.6 473.7L374.2 477.6L363.1 467Z"/><path d="M380.6 473.7L391.7 482.5L385.3 486.6L374.2 477.6Z"/><path d="M391.7 482.5L402.8 490.2L396.4 493.9L385.3 486.6Z"/><path d="M402.8 490.2L413.9 498.3L407.4 501.9L396.4 493.9Z"/><path d="M413.9 498.3L424.9 506L418.5 509.8L407.4 501.9Z"/><path d="M424.9 506L436 512.7L429.6 516.7L418.5 509.8Z"/><path d="M436 512.7L447.1 518.8L440.7 522.9L429.6 516.7Z"/><path d="M447.1 518.8L458.2 524.5L451.8 528.3L440.7 522.9Z"/><path d="M458.2 524.5L469.3 529.1L462.9 532.9L451.8 528.3Z"/><path d="M469.3 529.1L480.3 533.9L473.9 538L462.9 532.9Z"/><path d="M480.3 533.9L491.4 538.8L485 542.6L473.9 538Z"/><path d="M491.4 538.8L502.5 543.2L496.1 547L485 542.6Z"/><path d="M502.5 543.2L513.6 548.1L507.2 551.7L496.1 547Z"/><path d="M513.6 548.1L524.7 552.8L518.3 556.6L507.2 551.7Z"/><path d="M524.7 552.8L535.7 558.2L529.3 561.5L518.3 556.6Z"/><path d="M535.7 558.2L546.8 562.1L540.4 565.4L529.3 561.5Z"/><path d="M546.8 562.1L557.9 566L551.5 569.6L540.4 565.4Z"/><path d="M557.9 566L569 569.7L562.6 572.9L551.5 569.6Z"/><path d="M569 569.7L580.1 572.2L573.7 575.6L562.6 572.9Z"/><path d="M580.1 572.2L591.2 574.9L584.7 578.5L573.7 575.6Z"/><path d="M591.2 574.9L602.2 575.9L595.8 579.5L584.7 578.5Z"/><path d="M602.2 575.9L613.3 575.1L606.9 578.6L595.8 579.5Z"/><path d="M613.3 575.1L624.4 572.4L618 575.6L606.9 578.6Z"/>
<path d="M185.8 253.6L196.9 244.8L190.5 249.3L179.4 259.4Z"/><path d="M196.9 244.8L208 242.8L201.6 246.6L190.5 249.3Z"/><path d="M208 242.8L219.1 247.6L212.7 250.8L201.6 246.6Z"/><path d="M219.1 247.6L230.1 252.9L223.7 256L212.7 250.8Z"/><path d="M230.1 252.9L241.2 259.6L234.8 262.8L223.7 256Z"/><path d="M241.2 259.6L252.3 268.6L245.9 272.8L234.8 262.8Z"/><path d="M252.3 268.6L263.4 281.2L257 284.1L245.9 272.8Z"/><path d="M263.4 281.2L274.5 293.5L268.1 299.1L257 284.1Z"/><path d="M274.5 293.5L285.6 313.2L279.1 318.5L268.1 299.1Z"/><path d="M285.6 313.2L296.6 335.6L290.2 340.3L279.1 318.5Z"/><path d="M296.6 335.6L307.7 371.8L301.3 376.5L290.2 340.3Z"/><path d="M307.7 371.8L318.8 404.6L312.4 408.4L301.3 376.5Z"/><path d="M318.8 404.6L329.9 424.9L323.5 428.6L312.4 408.4Z"/><path d="M329.9 424.9L341 440L334.5 444.2L323.5 428.6Z"/><path d="M341 440L352 454.5L345.6 458.1L334.5 444.2Z"/><path d="M352 454.5L363.1 467L356.7 470.6L345.6 458.1Z"/><path d="M363.1 467L374.2 477.6L367.8 480.8L356.7 470.6Z"/><path d="M374.2 477.6L385.3 486.6L378.9 490.4L367.8 480.8Z"/><path d="M385.3 486.6L396.4 493.9L390 497.8L378.9 490.4Z"/><path d="M396.4 493.9L407.4 501.9L401 505.6L390 497.8Z"/><path d="M407.4 501.9L418.5 509.8L412.1 513.6L401 505.6Z"/><path d="M418.5 509.8L429.6 516.7L423.2 520.6L412.1 513.6Z"/><path d="M429.6 516.7L440.7 522.9L434.3 526.6L423.2 520.6Z"/><path d="M440.7 522.9L451.8 528.3L445.4 531.6L434.3 526.6Z"/><path d="M451.8 528.3L462.9 532.9L456.4 536.8L445.4 531.6Z"/><path d="M462.9 532.9L473.9 538L467.5 541.8L456.4 536.8Z"/><path d="M473.9 538L485 542.6L478.6 546.3L467.5 541.8Z"/><path d="M485 542.6L496.1 547L489.7 550.7L478.6 546.3Z"/><path d="M496.1 547L507.2 551.7L500.8 555.4L489.7 550.7Z"/><path d="M507.2 551.7L518.3 556.6L511.8 559.9L500.8 555.4Z"/><path d="M518.3 556.6L529.3 561.5L522.9 564.8L511.8 559.9Z"/><path d="M529.3 561.5L540.4 565.4L534 568.8L522.9 564.8Z"/><path d="M540.4 565.4L551.5 569.6L545.1 572.8L534 568.8Z"/><path d="M551.5 569.6L562.6 572.9L556.2 576.3L545.1 572.8Z"/><path d="M562.6 572.9L573.7 575.6L567.3 579.7L556.2 576.3Z"/><path d="M573.7 575.6L584.7 578.5L578.3 582.1L567.3 579.7Z"/><path d="M584.7 578.5L595.8 579.5L589.4 582.7L578.3 582.1Z"/><path d="M595.8 579.5L606.9 578.6L600.5 582L589.4 582.7Z"/><path d="M606.9 578.6L618 575.6L611.6 579.2L600.5 582Z"/>
<path d="M179.4 259.4L190.5 249.3L184.1 252.9L173 263.5Z"/><path d="M190.5 249.3L201.6 246.6L195.2 251.5L184.1 252.9Z"/><path d="M201.6 246.6L212.7 250.8L206.2 254.8L195.2 251.5Z"/><path d="M212.7 250.8L223.7 256L217.3 261.7L206.2 254.8Z"/><path d="M223.7 256L234.8 262.8L228.4 267.9L217.3 261.7Z"/><path d="M234.8 262.8L245.9 272.8L239.5 277.9L228.4 267.9Z"/><path d="M245.9 272.8L257 284.1L250.6 289L239.5 277.9Z"/><path d="M257 284.1L268.1 299.1L261.7 304.6L250.6 289Z"/><path d="M268.1 299.1L279.1 318.5L272.7 322.7L261.7 304.6Z"/><path d="M279.1 318.5L290.2 340.3L283.8 343.9L272.7 322.7Z"/><path d="M290.2 340.3L301.3 376.5L294.9 380.4L283.8 343.9Z"/><path d="M301.3 376.5L312.4 408.4L306 412.4L294.9 380.4Z"/><path d="M312.4 408.4L323.5 428.6L317.1 432.8L306 412.4Z"/><path d="M323.5 428.6L334.5 444.2L328.1 448L317.1 432.8Z"/><path d="M334.5 444.2L345.6 458.1L339.2 462.2L328.1 448Z"/><path d="M345.6 458.1L356.7 470.6L350.3 474.4L339.2 462.2Z"/><path d="M356.7 470.6L367.8 480.8L361.4 484.3L350.3 474.4Z"/><path d="M367.8 480.8L378.9 490.4L372.5 494.3L361.4 484.3Z"/><path d="M378.9 490.4L390 497.8L383.5 501.6L372.5 494.3Z"/><path d="M390 497.8L401 505.6L394.6 509.3L383.5 501.6Z"/><path d="M401 505.6L412.1 513.6L405.7 517.1L394.6 509.3Z"/><path d="M412.1 513.6L423.2 520.6L416.8 523.9L405.7 517.1Z"/><path d="M423.2 520.6L434.3 526.6L427.9 529.8L416.8 523.9Z"/><path d="M434.3 526.6L445.4 531.6L439 535L427.9 529.8Z"/><path d="M445.4 531.6L456.4 536.8L450 540.4L439 535Z"/><path d="M456.4 536.8L467.5 541.8L461.1 545.1L450 540.4Z"/><path d="M467.5 541.8L478.6 546.3L472.2 549.8L461.1 545.1Z"/><path d="M478.6 546.3L489.7 550.7L483.3 554L472.2 549.8Z"/><path d="M489.7 550.7L500.8 555.4L494.4 558.7L483.3 554Z"/><path d="M500.8 555.4L511.8 559.9L505.4 563.6L494.4 558.7Z"/><path d="M511.8 559.9L522.9 564.8L516.5 568.6L505.4 563.6Z"/><path d="M522.9 564.8L534 568.8L527.6 572L516.5 568.6Z"/><path d="M534 568.8L545.1 572.8L538.7 575.7L527.6 572Z"/><path d="M545.1 572.8L556.2 576.3L549.8 578.9L538.7 575.7Z"/><path d="M556.2 576.3L567.3 579.7L560.8 582.5L549.8 578.9Z"/><path d="M567.3 579.7L578.3 582.1L571.9 584.7L560.8 582.5Z"/><path d="M578.3 582.1L589.4 582.7L583 585.8L571.9 584.7Z"/><path d="M589.4 582.7L600.5 582L594.1 585L583 585.8Z"/><path d="M600.5 582L611.6 579.2L605.2 582.4L594.1 585Z"/>
<path d="M173 263.5L184.1 252.9L177.7 258.5L166.6 269.9Z"/><path d="M184.1 252.9L195.2 251.5L188.8 257.7L177.7 258.5Z"/><path d="M195.2 251.5L206.2 254.8L199.8 259.7L188.8 257.7Z"/><path d="M206.2 254.8L217.3 261.7L210.9 267L199.8 259.7Z"/><path d="M217.3 261.7L228.4 267.9L222 272.2L210.9 267Z"/><path d="M228.4 267.9L239.5 277.9L233.1 281.6L222 272.2Z"/><path d="M239.5 277.9L250.6 289L244.2 293.7L233.1 281.6Z"/><path d="M250.6 289L261.7 304.6L255.2 307.8L244.2 293.7Z"/><path d="M261.7 304.6L272.7 322.7L266.3 327.1L255.2 307.8Z"/><path d="M272.7 322.7L283.8 343.9L277.4 348.4L266.3 327.1Z"/><path d="M283.8 343.9L294.9 380.4L288.5 385L277.4 348.4Z"/><path d="M294.9 380.4L306 412.4L299.6 414.9L288.5 385Z"/><path d="M306 412.4L317.1 432.8L310.7 436.5L299.6 414.9Z"/><path d="M317.1 432.8L328.1 448L321.7 452.3L310.7 436.5Z"/><path d="M328.1 448L339.2 462.2L332.8 465.9L321.7 452.3Z"/><path d="M339.2 462.2L350.3 474.4L343.9 478.2L332.8 465.9Z"/><path d="M350.3 474.4L361.4 484.3L355 488.2L343.9 478.2Z"/><path d="M361.4 484.3L372.5 494.3L366.1 497.8L355 488.2Z"/><path d="M372.5 494.3L383.5 501.6L377.1 505.1L366.1 497.8Z"/><path d="M383.5 501.6L394.6 509.3L388.2 512.9L377.1 505.1Z"/><path d="M394.6 509.3L405.7 517.1L399.3 520.6L388.2 512.9Z"/><path d="M405.7 517.1L416.8 523.9L410.4 527.6L399.3 520.6Z"/><path d="M416.8 523.9L427.9 529.8L421.5 533.5L410.4 527.6Z"/><path d="M427.9 529.8L439 535L432.5 538.8L421.5 533.5Z"/><path d="M439 535L450 540.4L443.6 543.3L432.5 538.8Z"/><path d="M450 540.4L461.1 545.1L454.7 548.2L443.6 543.3Z"/><path d="M461.1 545.1L472.2 549.8L465.8 553.2L454.7 548.2Z"/><path d="M472.2 549.8L483.3 554L476.9 557.3L465.8 553.2Z"/><path d="M483.3 554L494.4 558.7L487.9 562.2L476.9 557.3Z"/><path d="M494.4 558.7L505.4 563.6L499 566.7L487.9 562.2Z"/><path d="M505.4 563.6L516.5 568.6L510.1 571.6L499 566.7Z"/><path d="M516.5 568.6L527.6 572L521.2 575.3L510.1 571.6Z"/><path d="M527.6 572L538.7 575.7L532.3 578.7L521.2 575.3Z"/><path d="M538.7 575.7L549.8 578.9L543.4 582.1L532.3 578.7Z"/><path d="M549.8 578.9L560.8 582.5L554.4 585.1L543.4 582.1Z"/><path d="M560.8 582.5L571.9 584.7L565.5 587.3L554.4 585.1Z"/><path d="M571.9 584.7L583 585.8L576.6 588.9L565.5 587.3Z"/><path d="M583 585.8L594.1 585L587.7 588.2L576.6 588.9Z"/><path d="M594.1 585L605.2 582.4L598.8 585.9L587.7 588.2Z"/>
<path class="u" d="M166.6 269.9L177.7 258.5L171.3 265L160.2 275.4Z"/><path d="M177.7 258.5L188.8 257.7L182.3 262.9L171.3 265Z"/><path d="M188.8 257.7L199.8 259.7L193.4 264.5L182.3 262.9Z"/><path d="M199.8 259.7L210.9 267L204.5 269.9L193.4 264.5Z"/><path d="M210.9 267L222 272.2L215.6 276.3L204.5 269.9Z"/><path d="M222 272.2L233.1 281.6L226.7 286.1L215.6 276.3Z"/><path d="M233.1 281.6L244.2 293.7L237.8 297.8L226.7 286.1Z"/><path d="M244.2 293.7L255.2 307.8L248.8 311.9L237.8 297.8Z"/><path d="M255.2 307.8L266.3 327.1L259.9 330.2L248.8 311.9Z"/><path d="M266.3 327.1L277.4 348.4L271 352.9L259.9 330.2Z"/><path d="M277.4 348.4L288.5 385L282.1 388.8L271 352.9Z"/><path d="M288.5 385L299.6 414.9L293.2 419.4L282.1 388.8Z"/><path d="M299.6 414.9L310.7 436.5L304.2 439.7L293.2 419.4Z"/><path d="M310.7 436.5L321.7 452.3L315.3 456.1L304.2 439.7Z"/><path d="M321.7 452.3L332.8 465.9L326.4 470.1L315.3 456.1Z"/><path d="M332.8 465.9L343.9 478.2L337.5 482.2L326.4 470.1Z"/><path d="M343.9 478.2L355 488.2L348.6 491.7L337.5 482.2Z"/><path d="M355 488.2L366.1 497.8L359.6 500.6L348.6 491.7Z"/><path d="M366.1 497.8L377.1 505.1L370.7 508.4L359.6 500.6Z"/><path d="M377.1 505.1L388.2 512.9L381.8 516L370.7 508.4Z"/><path d="M388.2 512.9L399.3 520.6L392.9 518.7L381.8 516Z"/><path d="M399.3 520.6L410.4 527.6L404 530.8L392.9 518.7Z"/><path d="M410.4 527.6L421.5 533.5L415.1 536.7L404 530.8Z"/><path d="M421.5 533.5L432.5 538.8L426.1 541.9L415.1 536.7Z"/><path d="M432.5 538.8L443.6 543.3L437.2 546.7L426.1 541.9Z"/><path d="M443.6 543.3L454.7 548.2L448.3 551.7L437.2 546.7Z"/><path d="M454.7 548.2L465.8 553.2L459.4 556.6L448.3 551.7Z"/><path d="M465.8 553.2L476.9 557.3L470.5 561.1L459.4 556.6Z"/><path d="M476.9 557.3L487.9 562.2L481.5 565.1L470.5 561.1Z"/><path d="M487.9 562.2L499 566.7L492.6 569.3L481.5 565.1Z"/><path d="M499 566.7L510.1 571.6L503.7 574.3L492.6 569.3Z"/><path d="M510.1 571.6L521.2 575.3L514.8 578.2L503.7 574.3Z"/><path d="M521.2 575.3L532.3 578.7L525.9 581.3L514.8 578.2Z"/><path d="M532.3 578.7L543.4 582.1L536.9 584.5L525.9 581.3Z"/><path d="M543.4 582.1L554.4 585.1L548 587.1L536.9 584.5Z"/><path d="M554.4 585.1L565.5 587.3L559.1 589.8L548 587.1Z"/><path d="M565.5 587.3L576.6 588.9L570.2 591.2L559.1 589.8Z"/><path d="M576.6 588.9L587.7 588.2L581.3 591.5L570.2 591.2Z"/><path d="M587.7 588.2L598.8 585.9L592.3 588.7L581.3 591.5Z"/>
<path d="M160.2 275.4L171.3 265L164.9 271.6L153.8 285.3Z"/><path d="M171.3 265L182.3 262.9L175.9 270.1L164.9 271.6Z"/><path d="M182.3 262.9L193.4 264.5L187 273.4L175.9 270.1Z"/><path d="M193.4 264.5L204.5 269.9L198.1 278.5L187 273.4Z"/><path d="M204.5 269.9L215.6 276.3L209.2 283L198.1 278.5Z"/><path d="M215.6 276.3L226.7 286.1L220.3 292.2L209.2 283Z"/><path d="M226.7 286.1L237.8 297.8L231.3 301.6L220.3 292.2Z"/><path d="M237.8 297.8L248.8 311.9L242.4 318.2L231.3 301.6Z"/><path d="M248.8 311.9L259.9 330.2L253.5 335.6L242.4 318.2Z"/><path d="M259.9 330.2L271 352.9L264.6 357L253.5 335.6Z"/><path d="M271 352.9L282.1 388.8L275.7 393.4L264.6 357Z"/><path d="M282.1 388.8L293.2 419.4L286.8 424.1L275.7 393.4Z"/><path d="M293.2 419.4L304.2 439.7L297.8 443.3L286.8 424.1Z"/><path d="M304.2 439.7L315.3 456.1L308.9 459.1L297.8 443.3Z"/><path d="M315.3 456.1L326.4 470.1L320 473.3L308.9 459.1Z"/><path d="M326.4 470.1L337.5 482.2L331.1 485.1L320 473.3Z"/><path d="M337.5 482.2L348.6 491.7L342.2 495.2L331.1 485.1Z"/><path d="M348.6 491.7L359.6 500.6L353.2 504L342.2 495.2Z"/><path d="M359.6 500.6L370.7 508.4L364.3 511.1L353.2 504Z"/><path d="M370.7 508.4L381.8 516L375.4 518.7L364.3 511.1Z"/><path d="M381.8 516L392.9 518.7L386.5 526.4L375.4 518.7Z"/><path d="M392.9 518.7L404 530.8L397.6 533.7L386.5 526.4Z"/><path d="M404 530.8L415.1 536.7L408.6 539.1L397.6 533.7Z"/><path d="M415.1 536.7L426.1 541.9L419.7 544.4L408.6 539.1Z"/><path d="M426.1 541.9L437.2 546.7L430.8 549.6L419.7 544.4Z"/><path d="M437.2 546.7L448.3 551.7L441.9 554.7L430.8 549.6Z"/><path d="M448.3 551.7L459.4 556.6L453 559L441.9 554.7Z"/><path d="M459.4 556.6L470.5 561.1L464 563.7L453 559Z"/><path d="M470.5 561.1L481.5 565.1L475.1 567.8L464 563.7Z"/><path d="M481.5 565.1L492.6 569.3L486.2 572.1L475.1 567.8Z"/><path d="M492.6 569.3L503.7 574.3L497.3 576.7L486.2 572.1Z"/><path d="M503.7 574.3L514.8 578.2L508.4 580.7L497.3 576.7Z"/><path d="M514.8 578.2L525.9 581.3L519.5 584L508.4 580.7Z"/><path d="M525.9 581.3L536.9 584.5L530.5 587L519.5 584Z"/><path d="M536.9 584.5L548 587.1L541.6 589.2L530.5 587Z"/><path d="M548 587.1L559.1 589.8L552.7 591.7L541.6 589.2Z"/><path d="M559.1 589.8L570.2 591.2L563.8 593L552.7 591.7Z"/><path d="M570.2 591.2L581.3 591.5L574.9 593.1L563.8 593Z"/><path d="M581.3 591.5L592.3 588.7L585.9 590.8L574.9 593.1Z"/>
<path d="M153.8 285.3L164.9 271.6L158.5 279.9L147.4 292.2Z"/><path d="M164.9 271.6L175.9 270.1L169.5 279L158.5 279.9Z"/><path d="M175.9 270.1L187 273.4L180.6 280.5L169.5 279Z"/><path d="M187 273.4L198.1 278.5L191.7 285.5L180.6 280.5Z"/><path d="M198.1 278.5L209.2 283L202.8 291.8L191.7 285.5Z"/><path d="M209.2 283L220.3 292.2L213.9 300.6L202.8 291.8Z"/><path d="M220.3 292.2L231.3 301.6L224.9 310.6L213.9 300.6Z"/><path d="M231.3 301.6L242.4 318.2L236 324.3L224.9 310.6Z"/><path d="M242.4 318.2L253.5 335.6L247.1 341.5L236 324.3Z"/><path d="M253.5 335.6L264.6 357L258.2 363.1L247.1 341.5Z"/><path d="M264.6 357L275.7 393.4L269.3 400.4L258.2 363.1Z"/><path d="M275.7 393.4L286.8 424.1L280.3 428.9L269.3 400.4Z"/><path d="M286.8 424.1L297.8 443.3L291.4 447.9L280.3 428.9Z"/><path d="M297.8 443.3L308.9 459.1L302.5 462.6L291.4 447.9Z"/><path d="M308.9 459.1L320 473.3L313.6 476.6L302.5 462.6Z"/><path d="M320 473.3L331.1 485.1L324.7 488.1L313.6 476.6Z"/><path d="M331.1 485.1L342.2 495.2L335.7 498.1L324.7 488.1Z"/><path d="M342.2 495.2L353.2 504L346.8 506.7L335.7 498.1Z"/><path d="M353.2 504L364.3 511.1L357.9 513.7L346.8 506.7Z"/><path d="M364.3 511.1L375.4 518.7L369 521.4L357.9 513.7Z"/><path d="M375.4 518.7L386.5 526.4L380.1 528.2L369 521.4Z"/><path d="M386.5 526.4L397.6 533.7L391.2 535.5L380.1 528.2Z"/><path d="M397.6 533.7L408.6 539.1L402.2 541.2L391.2 535.5Z"/><path d="M408.6 539.1L419.7 544.4L413.3 546.7L402.2 541.2Z"/><path d="M419.7 544.4L430.8 549.6L424.4 551.7L413.3 546.7Z"/><path d="M430.8 549.6L441.9 554.7L435.5 556.3L424.4 551.7Z"/><path d="M441.9 554.7L453 559L446.6 560.8L435.5 556.3Z"/><path d="M453 559L464 563.7L457.6 565.6L446.6 560.8Z"/><path d="M464 563.7L475.1 567.8L468.7 569.6L457.6 565.6Z"/><path d="M475.1 567.8L486.2 572.1L479.8 574.2L468.7 569.6Z"/><path d="M486.2 572.1L497.3 576.7L490.9 578.6L479.8 574.2Z"/><path d="M497.3 576.7L508.4 580.7L502 581.9L490.9 578.6Z"/><path d="M508.4 580.7L519.5 584L513 585.3L502 581.9Z"/><path d="M519.5 584L530.5 587L524.1 588.2L513 585.3Z"/><path d="M530.5 587L541.6 589.2L535.2 590.5L524.1 588.2Z"/><path d="M541.6 589.2L552.7 591.7L546.3 592.7L535.2 590.5Z"/><path d="M552.7 591.7L563.8 593L557.4 594.7L546.3 592.7Z"/><path d="M563.8 593L574.9 593.1L568.5 594.9L557.4 594.7Z"/><path d="M574.9 593.1L585.9 590.8L579.5 592.7L568.5 594.9Z"/>
<path d="M147.4 292.2L158.5 279.9L152 293.2L141 304.4Z"/><path d="M158.5 279.9L169.5 279L163.1 291.9L152 293.2Z"/><path d="M169.5 279L180.6 280.5L174.2 292.8L163.1 291.9Z"/><path d="M180.6 280.5L191.7 285.5L185.3 297.9L174.2 292.8Z"/><path d="M191.7 285.5L202.8 291.8L196.4 304.9L185.3 297.9Z"/><path d="M202.8 291.8L213.9 300.6L207.4 313.5L196.4 304.9Z"/><path d="M213.9 300.6L224.9 310.6L218.5 323.1L207.4 313.5Z"/><path d="M224.9 310.6L236 324.3L229.6 335.5L218.5 323.1Z"/><path d="M236 324.3L247.1 341.5L240.7 350.8L229.6 335.5Z"/><path d="M247.1 341.5L258.2 363.1L251.8 371.5L240.7 350.8Z"/><path d="M258.2 363.1L269.3 400.4L262.9 406.5L251.8 371.5Z"/><path d="M269.3 400.4L280.3 428.9L273.9 432.8L262.9 406.5Z"/><path d="M280.3 428.9L291.4 447.9L285 450.5L273.9 432.8Z"/><path d="M291.4 447.9L302.5 462.6L296.1 464.9L285 450.5Z"/><path d="M302.5 462.6L313.6 476.6L307.2 478.4L296.1 464.9Z"/><path d="M313.6 476.6L324.7 488.1L318.3 489.7L307.2 478.4Z"/><path d="M324.7 488.1L335.7 498.1L329.3 499.4L318.3 489.7Z"/><path d="M335.7 498.1L346.8 506.7L340.4 508.1L329.3 499.4Z"/><path d="M346.8 506.7L357.9 513.7L351.5 515.1L340.4 508.1Z"/><path d="M357.9 513.7L369 521.4L362.6 522.5L351.5 515.1Z"/><path d="M369 521.4L380.1 528.2L373.7 529.3L362.6 522.5Z"/><path d="M380.1 528.2L391.2 535.5L384.7 536.3L373.7 529.3Z"/><path d="M391.2 535.5L402.2 541.2L395.8 542.1L384.7 536.3Z"/><path d="M402.2 541.2L413.3 546.7L406.9 547.3L395.8 542.1Z"/><path d="M413.3 546.7L424.4 551.7L418 552.1L406.9 547.3Z"/><path d="M424.4 551.7L435.5 556.3L429.1 557.2L418 552.1Z"/><path d="M435.5 556.3L446.6 560.8L440.2 561.5L429.1 557.2Z"/><path d="M446.6 560.8L457.6 565.6L451.2 565.9L440.2 561.5Z"/><path d="M457.6 565.6L468.7 569.6L462.3 569.5L451.2 565.9Z"/><path d="M468.7 569.6L479.8 574.2L473.4 573.9L462.3 569.5Z"/><path d="M479.8 574.2L490.9 578.6L484.5 578.5L473.4 573.9Z"/><path d="M490.9 578.6L502 581.9L495.6 582.4L484.5 578.5Z"/><path d="M502 581.9L513 585.3L506.6 585.4L495.6 582.4Z"/><path d="M513 585.3L524.1 588.2L517.7 587.9L506.6 585.4Z"/><path d="M524.1 588.2L535.2 590.5L528.8 590.4L517.7 587.9Z"/><path d="M535.2 590.5L546.3 592.7L539.9 592.2L528.8 590.4Z"/><path d="M546.3 592.7L557.4 594.7L551 594.2L539.9 592.2Z"/><path d="M557.4 594.7L568.5 594.9L562 595.1L551 594.2Z"/><path class="u" d="M568.5 594.9L579.5 592.7L573.1 592.7L562 595.1Z"/>
<path d="M141 304.4L152 293.2L145.6 314L134.6 321.8Z"/><path d="M152 293.2L163.1 291.9L156.7 312L145.6 314Z"/><path d="M163.1 291.9L174.2 292.8L167.8 315.2L156.7 312Z"/><path d="M174.2 292.8L185.3 297.9L178.9 321.2L167.8 315.2Z"/><path d="M185.3 297.9L196.4 304.9L190 327.5L178.9 321.2Z"/><path d="M196.4 304.9L207.4 313.5L201 334L190 327.5Z"/><path d="M207.4 313.5L218.5 323.1L212.1 345.2L201 334Z"/><path d="M218.5 323.1L229.6 335.5L223.2 357.3L212.1 345.2Z"/><path d="M229.6 335.5L240.7 350.8L234.3 369.8L223.2 357.3Z"/><path d="M240.7 350.8L251.8 371.5L245.4 386.9L234.3 369.8Z"/><path d="M251.8 371.5L262.9 406.5L256.4 416.1L245.4 386.9Z"/><path d="M262.9 406.5L273.9 432.8L267.5 436.8L256.4 416.1Z"/><path d="M273.9 432.8L285 450.5L278.6 452.1L267.5 436.8Z"/><path d="M285 450.5L296.1 464.9L289.7 467.7L278.6 452.1Z"/><path d="M296.1 464.9L307.2 478.4L300.8 479.4L289.7 467.7Z"/><path d="M307.2 478.4L318.3 489.7L311.8 490.1L300.8 479.4Z"/><path d="M318.3 489.7L329.3 499.4L322.9 499.2L311.8 490.1Z"/><path d="M329.3 499.4L340.4 508.1L334 507.4L322.9 499.2Z"/><path d="M340.4 508.1L351.5 515.1L345.1 514.4L334 507.4Z"/><path d="M351.5 515.1L362.6 522.5L356.2 521.6L345.1 514.4Z"/><path d="M362.6 522.5L373.7 529.3L367.3 528.2L356.2 521.6Z"/><path d="M373.7 529.3L384.7 536.3L378.3 535L367.3 528.2Z"/><path d="M384.7 536.3L395.8 542.1L389.4 540.8L378.3 535Z"/><path d="M395.8 542.1L406.9 547.3L400.5 545.6L389.4 540.8Z"/><path d="M406.9 547.3L418 552.1L411.6 550.4L400.5 545.6Z"/><path d="M418 552.1L429.1 557.2L422.7 555.3L411.6 550.4Z"/><path d="M429.1 557.2L440.2 561.5L433.7 559.5L422.7 555.3Z"/><path d="M440.2 561.5L451.2 565.9L444.8 564.1L433.7 559.5Z"/><path d="M451.2 565.9L462.3 569.5L455.9 568L444.8 564.1Z"/><path d="M462.3 569.5L473.4 573.9L467 572.2L455.9 568Z"/><path d="M473.4 573.9L484.5 578.5L478.1 576.6L467 572.2Z"/><path class="u" d="M484.5 578.5L495.6 582.4L489.1 579.9L478.1 576.6Z"/><path class="u" d="M495.6 582.4L506.6 585.4L500.2 582.9L489.1 579.9Z"/><path class="u" d="M506.6 585.4L517.7 587.9L511.3 584.9L500.2 582.9Z"/><path class="u" d="M517.7 587.9L528.8 590.4L522.4 587.4L511.3 584.9Z"/><path class="u" d="M528.8 590.4L539.9 592.2L533.5 589.6L522.4 587.4Z"/><path class="u" d="M539.9 592.2L551 594.2L544.6 591.5L533.5 589.6Z"/><path class="u" d="M551 594.2L562 595.1L555.6 592.2L544.6 591.5Z"/><path class="u" d="M562 595.1L573.1 592.7L566.7 590.5L555.6 592.2Z"/>
</g>
<path class="b" d="M122.5 231.4L575.5 325.3"/><path class="b" d="M575.5 325.3L837.5 162.5"/><path class="b" d="M575.5 325.3L575.5 651.3"/><path class="b" d="M122.5 231.4L122.5 557.4"/><path class="b" d="M837.5 162.5L837.5 488.5"/><path class="b" d="M122.5 557.4L575.5 651.3"/><path class="d2" d="M122.5 557.4L575.5 651.3"/><path class="b" d="M575.5 651.3L837.5 488.5"/><path class="b" d="M122.5 557.5L130 557.5"/><path class="b" d="M837.5 488.5L830 488.5"/><path class="b" d="M122.5 503.5L130 503.5"/><path class="b" d="M837.5 434.5L830 434.5"/><path class="b" d="M122.5 448.5L130 448.5"/><path class="b" d="M837.5 379.5L830 379.5"/><path class="b" d="M122.5 394.5L130 394.5"/><path class="b" d="M837.5 325.5L830 325.5"/><path class="b" d="M122.5 340.5L130 340.5"/><path class="b" d="M837.5 271.5L830 271.5"/><path class="b" d="M122.5 285.5L130 285.5"/><path class="b" d="M837.5 216.5L830 216.5"/><path class="b" d="M122.5 231.5L130 231.5"/><path class="b" d="M837.5 162.5L830 162.5"/><path class="b" d="M122.5 557.4L129.3 553.2"/><path class="b" d="M837.5 488.5L829.7 486.9"/><path class="b" d="M179.1 569.1L185.9 564.9"/><path class="b" d="M804.8 508.9L796.9 507.2"/><path class="b" d="M235.8 580.9L242.5 576.7"/><path class="b" d="M772 529.2L764.2 527.6"/><path class="b" d="M292.4 592.6L299.2 588.4"/><path class="b" d="M739.2 549.5L731.4 547.9"/><path class="b" d="M349 604.4L355.8 600.1"/><path class="b" d="M706.5 569.9L698.7 568.3"/><path class="b" d="M405.6 616.1L412.4 611.9"/><path class="b" d="M673.8 590.2L665.9 588.6"/><path class="b" d="M462.2 627.8L469 623.6"/><path class="b" d="M641 610.6L633.2 609"/><path class="b" d="M518.9 639.6L525.7 635.3"/><path class="b" d="M608.2 631L600.4 629.3"/><path class="b" d="M575.5 651.3L582.3 647.1"/><path class="b" d="M575.5 651.3L567.7 649.7"/><g class="t">
<text x="479.5" y="25.3" text-anchor="middle" textLength="285" lengthAdjust="spacingAndGlyphs">[josht] Intel SSDSA2MH080G1GC 2.5&quot; 80G SSD SATA</text>
<text x="109" y="560.2" text-anchor="end">0.045</text>
<text x="109" y="505.9" text-anchor="end">0.05</text>
<text x="109" y="451.5" text-anchor="end">0.055</text>
<text x="109" y="397.2" text-anchor="end">0.06</text>
<text x="109" y="342.9" text-anchor="end">0.065</text>
<text x="109" y="288.5" text-anchor="end">0.07</text>
<text x="109" y="234.2" text-anchor="end">0.075</text>
<text x="28.5" y="395.8" text-anchor="start" textLength="90.5" lengthAdjust="spacingAndGlyphs">Seek Speed (ms)</text>
<text x="119" y="563.2" text-anchor="middle">0</text>
<text x="847" y="492.3" text-anchor="start">0</text>
<text x="175.6" y="574.9" text-anchor="middle">10000</text>
<text x="814.2" y="512.6" text-anchor="start">10000</text>
<text x="232.2" y="586.7" text-anchor="middle">20000</text>
<text x="781.5" y="533" text-anchor="start">20000</text>
<text x="288.9" y="598.4" text-anchor="middle">30000</text>
<text x="748.8" y="553.3" text-anchor="start">30000</text>
<text x="345.5" y="610.1" text-anchor="middle">40000</text>
<text x="716" y="573.7" text-anchor="start">40000</text>
<text x="402.1" y="621.9" text-anchor="middle">50000</text>
<text x="683.2" y="594" text-anchor="start">50000</text>
<text x="458.8" y="633.6" text-anchor="middle">60000</text>
<text x="650.5" y="614.4" text-anchor="start">60000</text>
<text x="515.4" y="645.4" text-anchor="middle">70000</text>
<text x="617.8" y="634.8" text-anchor="start">70000</text>
<text x="572" y="657.1" text-anchor="middle">80000</text>
<text x="585" y="655.1" text-anchor="start">80000</text>
<text x="256.5" y="630.8" text-anchor="start" textLength="102" lengthAdjust="spacingAndGlyphs">Ending Offset (MB)</text>
<text x="724" y="585.8" text-anchor="start" textLength="107.5" lengthAdjust="spacingAndGlyphs">Starting Offset (MB)</text>
</g>
</svg>
</body></html>
